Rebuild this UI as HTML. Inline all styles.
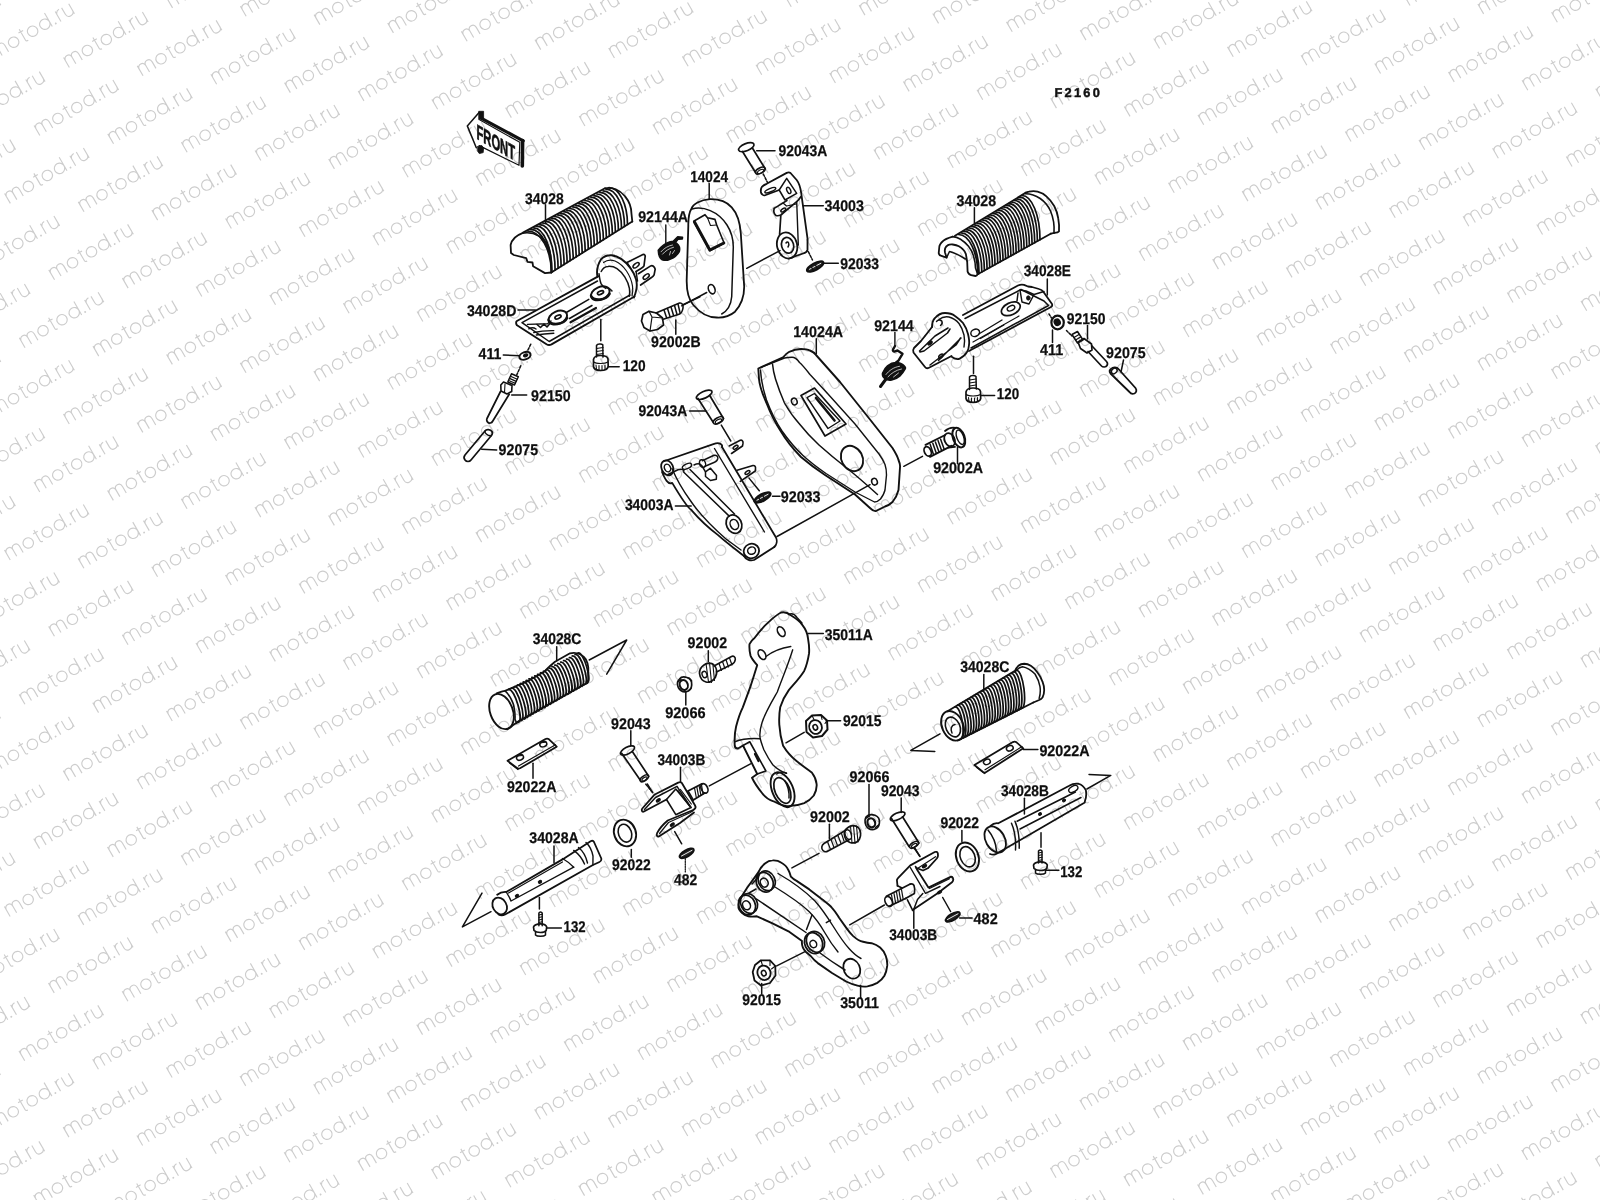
<!DOCTYPE html>
<html><head><meta charset="utf-8"><style>
html,body{margin:0;padding:0;background:#fff;width:1600px;height:1200px;overflow:hidden}
svg{display:block;will-change:transform}
.lb text{font-family:"Liberation Sans",sans-serif;font-weight:bold;font-size:15.5px;text-rendering:geometricPrecision;fill:#0d0d0d;stroke:#0d0d0d;stroke-width:0.25px}
.lb{opacity:0.995;will-change:transform}
</style></head><body>
<svg width="1600" height="1200" viewBox="0 0 1600 1200">
<defs><g id="wm"><path d="M0.4,0.0 V-11.5 M0.4,-7.9 C0.9,-10.9 2.6,-11.5 4.3,-11.5 C6.5,-11.5 7.9,-9.9 7.9,-7.5 V0.0 M7.9,-7.5 C7.9,-9.9 9.4,-11.5 11.6,-11.5 C13.8,-11.5 15.3,-9.9 15.3,-7.5 V0.0 M19.3,-5.75 a5.2,5.2 0 1,0 10.4,0 a5.2,5.2 0 1,0 -10.4,0 M35.8,-14.2 V-1.5 C35.8,-0.3 36.599999999999994,0 38.099999999999994,0 M33.199999999999996,-11.2 H38.599999999999994 M41.199999999999996,-5.75 a5.2,5.2 0 1,0 10.4,0 a5.2,5.2 0 1,0 -10.4,0 M55.3,-5.75 a5.2,5.2 0 1,0 10.4,0 a5.2,5.2 0 1,0 -10.4,0 M65.8,-15.6 V0 M75.8,0 V-11.5 M75.8,-8.0 C76.39999999999999,-10.7 78.0,-11.5 80.2,-11.5 M83.2,-11.5 V-4 C83.2,-1.4 84.9,0 87.30000000000001,0 C89.7,0 91.4,-1.4 91.4,-4 M91.4,-11.5 V0" fill="none" stroke="#cdcdcd" stroke-width="1.15"/><circle cx="70.4" cy="-0.9" r="0.95" fill="#cdcdcd"/></g></defs>
<rect width="1600" height="1200" fill="#fff"/>
<g><use href="#wm" transform="translate(1115.0,-27.7) rotate(-30)"/><use href="#wm" transform="translate(1188.7,-19.3) rotate(-30)"/><use href="#wm" transform="translate(1262.4,-11.0) rotate(-30)"/><use href="#wm" transform="translate(1336.0,-2.6) rotate(-30)"/><use href="#wm" transform="translate(1409.7,5.7) rotate(-30)"/><use href="#wm" transform="translate(1483.3,14.1) rotate(-30)"/><use href="#wm" transform="translate(1557.0,22.4) rotate(-30)"/><use href="#wm" transform="translate(1630.7,30.8) rotate(-30)"/><use href="#wm" transform="translate(496.3,-26.5) rotate(-30)"/><use href="#wm" transform="translate(569.9,-18.1) rotate(-30)"/><use href="#wm" transform="translate(643.6,-9.8) rotate(-30)"/><use href="#wm" transform="translate(717.3,-1.4) rotate(-30)"/><use href="#wm" transform="translate(790.9,6.9) rotate(-30)"/><use href="#wm" transform="translate(864.6,15.3) rotate(-30)"/><use href="#wm" transform="translate(938.2,23.6) rotate(-30)"/><use href="#wm" transform="translate(1011.9,32.0) rotate(-30)"/><use href="#wm" transform="translate(1085.6,40.3) rotate(-30)"/><use href="#wm" transform="translate(1159.2,48.7) rotate(-30)"/><use href="#wm" transform="translate(1232.9,57.0) rotate(-30)"/><use href="#wm" transform="translate(1306.5,65.4) rotate(-30)"/><use href="#wm" transform="translate(1380.2,73.7) rotate(-30)"/><use href="#wm" transform="translate(1453.9,82.1) rotate(-30)"/><use href="#wm" transform="translate(1527.5,90.4) rotate(-30)"/><use href="#wm" transform="translate(1601.2,98.8) rotate(-30)"/><use href="#wm" transform="translate(1674.8,107.1) rotate(-30)"/><use href="#wm" transform="translate(-48.8,-17.0) rotate(-30)"/><use href="#wm" transform="translate(24.8,-8.6) rotate(-30)"/><use href="#wm" transform="translate(98.5,-0.3) rotate(-30)"/><use href="#wm" transform="translate(172.2,8.1) rotate(-30)"/><use href="#wm" transform="translate(245.8,16.4) rotate(-30)"/><use href="#wm" transform="translate(319.5,24.8) rotate(-30)"/><use href="#wm" transform="translate(393.1,33.1) rotate(-30)"/><use href="#wm" transform="translate(466.8,41.5) rotate(-30)"/><use href="#wm" transform="translate(540.4,49.8) rotate(-30)"/><use href="#wm" transform="translate(614.1,58.2) rotate(-30)"/><use href="#wm" transform="translate(687.8,66.5) rotate(-30)"/><use href="#wm" transform="translate(761.4,74.9) rotate(-30)"/><use href="#wm" transform="translate(835.1,83.2) rotate(-30)"/><use href="#wm" transform="translate(908.8,91.6) rotate(-30)"/><use href="#wm" transform="translate(982.4,99.9) rotate(-30)"/><use href="#wm" transform="translate(1056.1,108.3) rotate(-30)"/><use href="#wm" transform="translate(1129.7,116.6) rotate(-30)"/><use href="#wm" transform="translate(1203.4,125.0) rotate(-30)"/><use href="#wm" transform="translate(1277.0,133.3) rotate(-30)"/><use href="#wm" transform="translate(1350.7,141.7) rotate(-30)"/><use href="#wm" transform="translate(1424.4,150.0) rotate(-30)"/><use href="#wm" transform="translate(1498.0,158.4) rotate(-30)"/><use href="#wm" transform="translate(1571.7,166.7) rotate(-30)"/><use href="#wm" transform="translate(1645.3,175.1) rotate(-30)"/><use href="#wm" transform="translate(-78.3,51.0) rotate(-30)"/><use href="#wm" transform="translate(-4.7,59.4) rotate(-30)"/><use href="#wm" transform="translate(69.0,67.7) rotate(-30)"/><use href="#wm" transform="translate(142.7,76.0) rotate(-30)"/><use href="#wm" transform="translate(216.3,84.4) rotate(-30)"/><use href="#wm" transform="translate(290.0,92.8) rotate(-30)"/><use href="#wm" transform="translate(363.6,101.1) rotate(-30)"/><use href="#wm" transform="translate(437.3,109.5) rotate(-30)"/><use href="#wm" transform="translate(511.0,117.8) rotate(-30)"/><use href="#wm" transform="translate(584.6,126.2) rotate(-30)"/><use href="#wm" transform="translate(658.3,134.5) rotate(-30)"/><use href="#wm" transform="translate(731.9,142.8) rotate(-30)"/><use href="#wm" transform="translate(805.6,151.2) rotate(-30)"/><use href="#wm" transform="translate(879.3,159.6) rotate(-30)"/><use href="#wm" transform="translate(952.9,167.9) rotate(-30)"/><use href="#wm" transform="translate(1026.6,176.2) rotate(-30)"/><use href="#wm" transform="translate(1100.2,184.6) rotate(-30)"/><use href="#wm" transform="translate(1173.9,192.9) rotate(-30)"/><use href="#wm" transform="translate(1247.6,201.3) rotate(-30)"/><use href="#wm" transform="translate(1321.2,209.6) rotate(-30)"/><use href="#wm" transform="translate(1394.9,218.0) rotate(-30)"/><use href="#wm" transform="translate(1468.5,226.4) rotate(-30)"/><use href="#wm" transform="translate(1542.2,234.7) rotate(-30)"/><use href="#wm" transform="translate(1615.9,243.1) rotate(-30)"/><use href="#wm" transform="translate(1689.5,251.4) rotate(-30)"/><use href="#wm" transform="translate(-34.1,127.3) rotate(-30)"/><use href="#wm" transform="translate(39.5,135.7) rotate(-30)"/><use href="#wm" transform="translate(113.2,144.0) rotate(-30)"/><use href="#wm" transform="translate(186.8,152.4) rotate(-30)"/><use href="#wm" transform="translate(260.5,160.7) rotate(-30)"/><use href="#wm" transform="translate(334.1,169.1) rotate(-30)"/><use href="#wm" transform="translate(407.8,177.4) rotate(-30)"/><use href="#wm" transform="translate(481.5,185.8) rotate(-30)"/><use href="#wm" transform="translate(555.1,194.1) rotate(-30)"/><use href="#wm" transform="translate(628.8,202.5) rotate(-30)"/><use href="#wm" transform="translate(702.4,210.8) rotate(-30)"/><use href="#wm" transform="translate(776.1,219.2) rotate(-30)"/><use href="#wm" transform="translate(849.8,227.5) rotate(-30)"/><use href="#wm" transform="translate(923.4,235.9) rotate(-30)"/><use href="#wm" transform="translate(997.1,244.2) rotate(-30)"/><use href="#wm" transform="translate(1070.8,252.6) rotate(-30)"/><use href="#wm" transform="translate(1144.4,260.9) rotate(-30)"/><use href="#wm" transform="translate(1218.1,269.3) rotate(-30)"/><use href="#wm" transform="translate(1291.7,277.6) rotate(-30)"/><use href="#wm" transform="translate(1365.4,286.0) rotate(-30)"/><use href="#wm" transform="translate(1439.0,294.3) rotate(-30)"/><use href="#wm" transform="translate(1512.7,302.7) rotate(-30)"/><use href="#wm" transform="translate(1586.4,311.0) rotate(-30)"/><use href="#wm" transform="translate(1660.0,319.4) rotate(-30)"/><use href="#wm" transform="translate(-63.6,195.3) rotate(-30)"/><use href="#wm" transform="translate(10.0,203.6) rotate(-30)"/><use href="#wm" transform="translate(83.7,212.0) rotate(-30)"/><use href="#wm" transform="translate(157.3,220.3) rotate(-30)"/><use href="#wm" transform="translate(231.0,228.7) rotate(-30)"/><use href="#wm" transform="translate(304.7,237.0) rotate(-30)"/><use href="#wm" transform="translate(378.3,245.4) rotate(-30)"/><use href="#wm" transform="translate(452.0,253.7) rotate(-30)"/><use href="#wm" transform="translate(525.6,262.1) rotate(-30)"/><use href="#wm" transform="translate(599.3,270.4) rotate(-30)"/><use href="#wm" transform="translate(673.0,278.8) rotate(-30)"/><use href="#wm" transform="translate(746.6,287.1) rotate(-30)"/><use href="#wm" transform="translate(820.3,295.5) rotate(-30)"/><use href="#wm" transform="translate(893.9,303.8) rotate(-30)"/><use href="#wm" transform="translate(967.6,312.2) rotate(-30)"/><use href="#wm" transform="translate(1041.3,320.5) rotate(-30)"/><use href="#wm" transform="translate(1114.9,328.9) rotate(-30)"/><use href="#wm" transform="translate(1188.6,337.2) rotate(-30)"/><use href="#wm" transform="translate(1262.2,345.6) rotate(-30)"/><use href="#wm" transform="translate(1335.9,353.9) rotate(-30)"/><use href="#wm" transform="translate(1409.6,362.3) rotate(-30)"/><use href="#wm" transform="translate(1483.2,370.6) rotate(-30)"/><use href="#wm" transform="translate(1556.9,379.0) rotate(-30)"/><use href="#wm" transform="translate(1630.5,387.3) rotate(-30)"/><use href="#wm" transform="translate(-93.1,263.3) rotate(-30)"/><use href="#wm" transform="translate(-19.5,271.6) rotate(-30)"/><use href="#wm" transform="translate(54.2,280.0) rotate(-30)"/><use href="#wm" transform="translate(127.8,288.3) rotate(-30)"/><use href="#wm" transform="translate(201.5,296.7) rotate(-30)"/><use href="#wm" transform="translate(275.2,305.0) rotate(-30)"/><use href="#wm" transform="translate(348.8,313.4) rotate(-30)"/><use href="#wm" transform="translate(422.5,321.7) rotate(-30)"/><use href="#wm" transform="translate(496.1,330.1) rotate(-30)"/><use href="#wm" transform="translate(569.8,338.4) rotate(-30)"/><use href="#wm" transform="translate(643.5,346.8) rotate(-30)"/><use href="#wm" transform="translate(717.1,355.1) rotate(-30)"/><use href="#wm" transform="translate(790.8,363.5) rotate(-30)"/><use href="#wm" transform="translate(864.4,371.8) rotate(-30)"/><use href="#wm" transform="translate(938.1,380.2) rotate(-30)"/><use href="#wm" transform="translate(1011.8,388.5) rotate(-30)"/><use href="#wm" transform="translate(1085.4,396.9) rotate(-30)"/><use href="#wm" transform="translate(1159.1,405.2) rotate(-30)"/><use href="#wm" transform="translate(1232.8,413.6) rotate(-30)"/><use href="#wm" transform="translate(1306.4,421.9) rotate(-30)"/><use href="#wm" transform="translate(1380.1,430.3) rotate(-30)"/><use href="#wm" transform="translate(1453.7,438.6) rotate(-30)"/><use href="#wm" transform="translate(1527.4,447.0) rotate(-30)"/><use href="#wm" transform="translate(1601.0,455.3) rotate(-30)"/><use href="#wm" transform="translate(1674.7,463.7) rotate(-30)"/><use href="#wm" transform="translate(-49.0,339.6) rotate(-30)"/><use href="#wm" transform="translate(24.7,347.9) rotate(-30)"/><use href="#wm" transform="translate(98.4,356.3) rotate(-30)"/><use href="#wm" transform="translate(172.0,364.6) rotate(-30)"/><use href="#wm" transform="translate(245.7,373.0) rotate(-30)"/><use href="#wm" transform="translate(319.3,381.3) rotate(-30)"/><use href="#wm" transform="translate(393.0,389.7) rotate(-30)"/><use href="#wm" transform="translate(466.7,398.0) rotate(-30)"/><use href="#wm" transform="translate(540.3,406.4) rotate(-30)"/><use href="#wm" transform="translate(614.0,414.7) rotate(-30)"/><use href="#wm" transform="translate(687.6,423.1) rotate(-30)"/><use href="#wm" transform="translate(761.3,431.4) rotate(-30)"/><use href="#wm" transform="translate(835.0,439.8) rotate(-30)"/><use href="#wm" transform="translate(908.6,448.1) rotate(-30)"/><use href="#wm" transform="translate(982.3,456.5) rotate(-30)"/><use href="#wm" transform="translate(1055.9,464.8) rotate(-30)"/><use href="#wm" transform="translate(1129.6,473.2) rotate(-30)"/><use href="#wm" transform="translate(1203.3,481.5) rotate(-30)"/><use href="#wm" transform="translate(1276.9,489.9) rotate(-30)"/><use href="#wm" transform="translate(1350.6,498.2) rotate(-30)"/><use href="#wm" transform="translate(1424.2,506.6) rotate(-30)"/><use href="#wm" transform="translate(1497.9,514.9) rotate(-30)"/><use href="#wm" transform="translate(1571.6,523.3) rotate(-30)"/><use href="#wm" transform="translate(1645.2,531.6) rotate(-30)"/><use href="#wm" transform="translate(-78.4,407.6) rotate(-30)"/><use href="#wm" transform="translate(-4.8,415.9) rotate(-30)"/><use href="#wm" transform="translate(68.9,424.2) rotate(-30)"/><use href="#wm" transform="translate(142.5,432.6) rotate(-30)"/><use href="#wm" transform="translate(216.2,441.0) rotate(-30)"/><use href="#wm" transform="translate(289.8,449.3) rotate(-30)"/><use href="#wm" transform="translate(363.5,457.7) rotate(-30)"/><use href="#wm" transform="translate(437.2,466.0) rotate(-30)"/><use href="#wm" transform="translate(510.8,474.4) rotate(-30)"/><use href="#wm" transform="translate(584.5,482.7) rotate(-30)"/><use href="#wm" transform="translate(658.1,491.1) rotate(-30)"/><use href="#wm" transform="translate(731.8,499.4) rotate(-30)"/><use href="#wm" transform="translate(805.5,507.8) rotate(-30)"/><use href="#wm" transform="translate(879.1,516.1) rotate(-30)"/><use href="#wm" transform="translate(952.8,524.5) rotate(-30)"/><use href="#wm" transform="translate(1026.4,532.8) rotate(-30)"/><use href="#wm" transform="translate(1100.1,541.2) rotate(-30)"/><use href="#wm" transform="translate(1173.8,549.5) rotate(-30)"/><use href="#wm" transform="translate(1247.4,557.9) rotate(-30)"/><use href="#wm" transform="translate(1321.1,566.2) rotate(-30)"/><use href="#wm" transform="translate(1394.7,574.5) rotate(-30)"/><use href="#wm" transform="translate(1468.4,582.9) rotate(-30)"/><use href="#wm" transform="translate(1542.1,591.2) rotate(-30)"/><use href="#wm" transform="translate(1615.7,599.6) rotate(-30)"/><use href="#wm" transform="translate(1689.4,608.0) rotate(-30)"/><use href="#wm" transform="translate(-34.3,483.9) rotate(-30)"/><use href="#wm" transform="translate(39.4,492.2) rotate(-30)"/><use href="#wm" transform="translate(113.0,500.6) rotate(-30)"/><use href="#wm" transform="translate(186.7,508.9) rotate(-30)"/><use href="#wm" transform="translate(260.4,517.3) rotate(-30)"/><use href="#wm" transform="translate(334.0,525.6) rotate(-30)"/><use href="#wm" transform="translate(407.7,534.0) rotate(-30)"/><use href="#wm" transform="translate(481.3,542.3) rotate(-30)"/><use href="#wm" transform="translate(555.0,550.7) rotate(-30)"/><use href="#wm" transform="translate(628.7,559.0) rotate(-30)"/><use href="#wm" transform="translate(702.3,567.4) rotate(-30)"/><use href="#wm" transform="translate(776.0,575.7) rotate(-30)"/><use href="#wm" transform="translate(849.6,584.1) rotate(-30)"/><use href="#wm" transform="translate(923.3,592.4) rotate(-30)"/><use href="#wm" transform="translate(997.0,600.8) rotate(-30)"/><use href="#wm" transform="translate(1070.6,609.1) rotate(-30)"/><use href="#wm" transform="translate(1144.3,617.5) rotate(-30)"/><use href="#wm" transform="translate(1217.9,625.8) rotate(-30)"/><use href="#wm" transform="translate(1291.6,634.2) rotate(-30)"/><use href="#wm" transform="translate(1365.3,642.5) rotate(-30)"/><use href="#wm" transform="translate(1438.9,650.9) rotate(-30)"/><use href="#wm" transform="translate(1512.6,659.2) rotate(-30)"/><use href="#wm" transform="translate(1586.2,667.6) rotate(-30)"/><use href="#wm" transform="translate(1659.9,675.9) rotate(-30)"/><use href="#wm" transform="translate(-63.8,551.8) rotate(-30)"/><use href="#wm" transform="translate(9.9,560.2) rotate(-30)"/><use href="#wm" transform="translate(83.6,568.5) rotate(-30)"/><use href="#wm" transform="translate(157.2,576.9) rotate(-30)"/><use href="#wm" transform="translate(230.9,585.2) rotate(-30)"/><use href="#wm" transform="translate(304.5,593.6) rotate(-30)"/><use href="#wm" transform="translate(378.2,601.9) rotate(-30)"/><use href="#wm" transform="translate(451.9,610.3) rotate(-30)"/><use href="#wm" transform="translate(525.5,618.6) rotate(-30)"/><use href="#wm" transform="translate(599.2,627.0) rotate(-30)"/><use href="#wm" transform="translate(672.8,635.3) rotate(-30)"/><use href="#wm" transform="translate(746.5,643.7) rotate(-30)"/><use href="#wm" transform="translate(820.1,652.0) rotate(-30)"/><use href="#wm" transform="translate(893.8,660.4) rotate(-30)"/><use href="#wm" transform="translate(967.5,668.7) rotate(-30)"/><use href="#wm" transform="translate(1041.1,677.1) rotate(-30)"/><use href="#wm" transform="translate(1114.8,685.4) rotate(-30)"/><use href="#wm" transform="translate(1188.4,693.8) rotate(-30)"/><use href="#wm" transform="translate(1262.1,702.1) rotate(-30)"/><use href="#wm" transform="translate(1335.8,710.5) rotate(-30)"/><use href="#wm" transform="translate(1409.4,718.8) rotate(-30)"/><use href="#wm" transform="translate(1483.1,727.2) rotate(-30)"/><use href="#wm" transform="translate(1556.7,735.5) rotate(-30)"/><use href="#wm" transform="translate(1630.4,743.9) rotate(-30)"/><use href="#wm" transform="translate(-93.3,619.8) rotate(-30)"/><use href="#wm" transform="translate(-19.6,628.2) rotate(-30)"/><use href="#wm" transform="translate(54.1,636.5) rotate(-30)"/><use href="#wm" transform="translate(127.7,644.9) rotate(-30)"/><use href="#wm" transform="translate(201.4,653.2) rotate(-30)"/><use href="#wm" transform="translate(275.0,661.6) rotate(-30)"/><use href="#wm" transform="translate(348.7,669.9) rotate(-30)"/><use href="#wm" transform="translate(422.4,678.3) rotate(-30)"/><use href="#wm" transform="translate(496.0,686.6) rotate(-30)"/><use href="#wm" transform="translate(569.7,695.0) rotate(-30)"/><use href="#wm" transform="translate(643.3,703.3) rotate(-30)"/><use href="#wm" transform="translate(717.0,711.7) rotate(-30)"/><use href="#wm" transform="translate(790.7,720.0) rotate(-30)"/><use href="#wm" transform="translate(864.3,728.4) rotate(-30)"/><use href="#wm" transform="translate(938.0,736.7) rotate(-30)"/><use href="#wm" transform="translate(1011.6,745.1) rotate(-30)"/><use href="#wm" transform="translate(1085.3,753.4) rotate(-30)"/><use href="#wm" transform="translate(1159.0,761.8) rotate(-30)"/><use href="#wm" transform="translate(1232.6,770.1) rotate(-30)"/><use href="#wm" transform="translate(1306.3,778.5) rotate(-30)"/><use href="#wm" transform="translate(1379.9,786.8) rotate(-30)"/><use href="#wm" transform="translate(1453.6,795.2) rotate(-30)"/><use href="#wm" transform="translate(1527.3,803.5) rotate(-30)"/><use href="#wm" transform="translate(1600.9,811.9) rotate(-30)"/><use href="#wm" transform="translate(1674.6,820.2) rotate(-30)"/><use href="#wm" transform="translate(-49.1,696.1) rotate(-30)"/><use href="#wm" transform="translate(24.6,704.5) rotate(-30)"/><use href="#wm" transform="translate(98.2,712.8) rotate(-30)"/><use href="#wm" transform="translate(171.9,721.2) rotate(-30)"/><use href="#wm" transform="translate(245.6,729.5) rotate(-30)"/><use href="#wm" transform="translate(319.2,737.9) rotate(-30)"/><use href="#wm" transform="translate(392.9,746.2) rotate(-30)"/><use href="#wm" transform="translate(466.5,754.6) rotate(-30)"/><use href="#wm" transform="translate(540.2,762.9) rotate(-30)"/><use href="#wm" transform="translate(613.9,771.3) rotate(-30)"/><use href="#wm" transform="translate(687.5,779.6) rotate(-30)"/><use href="#wm" transform="translate(761.2,788.0) rotate(-30)"/><use href="#wm" transform="translate(834.8,796.3) rotate(-30)"/><use href="#wm" transform="translate(908.5,804.7) rotate(-30)"/><use href="#wm" transform="translate(982.1,813.0) rotate(-30)"/><use href="#wm" transform="translate(1055.8,821.4) rotate(-30)"/><use href="#wm" transform="translate(1129.5,829.7) rotate(-30)"/><use href="#wm" transform="translate(1203.1,838.1) rotate(-30)"/><use href="#wm" transform="translate(1276.8,846.4) rotate(-30)"/><use href="#wm" transform="translate(1350.4,854.8) rotate(-30)"/><use href="#wm" transform="translate(1424.1,863.1) rotate(-30)"/><use href="#wm" transform="translate(1497.8,871.5) rotate(-30)"/><use href="#wm" transform="translate(1571.4,879.8) rotate(-30)"/><use href="#wm" transform="translate(1645.1,888.2) rotate(-30)"/><use href="#wm" transform="translate(-78.6,764.1) rotate(-30)"/><use href="#wm" transform="translate(-4.9,772.5) rotate(-30)"/><use href="#wm" transform="translate(68.7,780.8) rotate(-30)"/><use href="#wm" transform="translate(142.4,789.2) rotate(-30)"/><use href="#wm" transform="translate(216.1,797.5) rotate(-30)"/><use href="#wm" transform="translate(289.7,805.9) rotate(-30)"/><use href="#wm" transform="translate(363.4,814.2) rotate(-30)"/><use href="#wm" transform="translate(437.0,822.6) rotate(-30)"/><use href="#wm" transform="translate(510.7,830.9) rotate(-30)"/><use href="#wm" transform="translate(584.4,839.2) rotate(-30)"/><use href="#wm" transform="translate(658.0,847.6) rotate(-30)"/><use href="#wm" transform="translate(731.7,856.0) rotate(-30)"/><use href="#wm" transform="translate(805.3,864.3) rotate(-30)"/><use href="#wm" transform="translate(879.0,872.7) rotate(-30)"/><use href="#wm" transform="translate(952.7,881.0) rotate(-30)"/><use href="#wm" transform="translate(1026.3,889.4) rotate(-30)"/><use href="#wm" transform="translate(1100.0,897.7) rotate(-30)"/><use href="#wm" transform="translate(1173.6,906.1) rotate(-30)"/><use href="#wm" transform="translate(1247.3,914.4) rotate(-30)"/><use href="#wm" transform="translate(1321.0,922.8) rotate(-30)"/><use href="#wm" transform="translate(1394.6,931.1) rotate(-30)"/><use href="#wm" transform="translate(1468.3,939.5) rotate(-30)"/><use href="#wm" transform="translate(1541.9,947.8) rotate(-30)"/><use href="#wm" transform="translate(1615.6,956.2) rotate(-30)"/><use href="#wm" transform="translate(1689.3,964.5) rotate(-30)"/><use href="#wm" transform="translate(-34.4,840.4) rotate(-30)"/><use href="#wm" transform="translate(39.2,848.8) rotate(-30)"/><use href="#wm" transform="translate(112.9,857.1) rotate(-30)"/><use href="#wm" transform="translate(186.6,865.5) rotate(-30)"/><use href="#wm" transform="translate(260.2,873.8) rotate(-30)"/><use href="#wm" transform="translate(333.9,882.2) rotate(-30)"/><use href="#wm" transform="translate(407.5,890.5) rotate(-30)"/><use href="#wm" transform="translate(481.2,898.9) rotate(-30)"/><use href="#wm" transform="translate(554.9,907.2) rotate(-30)"/><use href="#wm" transform="translate(628.5,915.6) rotate(-30)"/><use href="#wm" transform="translate(702.2,923.9) rotate(-30)"/><use href="#wm" transform="translate(775.9,932.3) rotate(-30)"/><use href="#wm" transform="translate(849.5,940.6) rotate(-30)"/><use href="#wm" transform="translate(923.2,949.0) rotate(-30)"/><use href="#wm" transform="translate(996.8,957.3) rotate(-30)"/><use href="#wm" transform="translate(1070.5,965.7) rotate(-30)"/><use href="#wm" transform="translate(1144.2,974.0) rotate(-30)"/><use href="#wm" transform="translate(1217.8,982.4) rotate(-30)"/><use href="#wm" transform="translate(1291.5,990.7) rotate(-30)"/><use href="#wm" transform="translate(1365.1,999.1) rotate(-30)"/><use href="#wm" transform="translate(1438.8,1007.4) rotate(-30)"/><use href="#wm" transform="translate(1512.4,1015.8) rotate(-30)"/><use href="#wm" transform="translate(1586.1,1024.1) rotate(-30)"/><use href="#wm" transform="translate(1659.8,1032.5) rotate(-30)"/><use href="#wm" transform="translate(-63.9,908.4) rotate(-30)"/><use href="#wm" transform="translate(9.8,916.7) rotate(-30)"/><use href="#wm" transform="translate(83.4,925.1) rotate(-30)"/><use href="#wm" transform="translate(157.1,933.4) rotate(-30)"/><use href="#wm" transform="translate(230.7,941.8) rotate(-30)"/><use href="#wm" transform="translate(304.4,950.1) rotate(-30)"/><use href="#wm" transform="translate(378.1,958.5) rotate(-30)"/><use href="#wm" transform="translate(451.7,966.8) rotate(-30)"/><use href="#wm" transform="translate(525.4,975.2) rotate(-30)"/><use href="#wm" transform="translate(599.0,983.5) rotate(-30)"/><use href="#wm" transform="translate(672.7,991.9) rotate(-30)"/><use href="#wm" transform="translate(746.4,1000.2) rotate(-30)"/><use href="#wm" transform="translate(820.0,1008.6) rotate(-30)"/><use href="#wm" transform="translate(893.7,1016.9) rotate(-30)"/><use href="#wm" transform="translate(967.3,1025.3) rotate(-30)"/><use href="#wm" transform="translate(1041.0,1033.6) rotate(-30)"/><use href="#wm" transform="translate(1114.7,1042.0) rotate(-30)"/><use href="#wm" transform="translate(1188.3,1050.3) rotate(-30)"/><use href="#wm" transform="translate(1262.0,1058.7) rotate(-30)"/><use href="#wm" transform="translate(1335.6,1067.0) rotate(-30)"/><use href="#wm" transform="translate(1409.3,1075.4) rotate(-30)"/><use href="#wm" transform="translate(1483.0,1083.7) rotate(-30)"/><use href="#wm" transform="translate(1556.6,1092.1) rotate(-30)"/><use href="#wm" transform="translate(1630.3,1100.4) rotate(-30)"/><use href="#wm" transform="translate(-93.4,976.4) rotate(-30)"/><use href="#wm" transform="translate(-19.7,984.7) rotate(-30)"/><use href="#wm" transform="translate(53.9,993.1) rotate(-30)"/><use href="#wm" transform="translate(127.6,1001.4) rotate(-30)"/><use href="#wm" transform="translate(201.2,1009.8) rotate(-30)"/><use href="#wm" transform="translate(274.9,1018.1) rotate(-30)"/><use href="#wm" transform="translate(348.6,1026.5) rotate(-30)"/><use href="#wm" transform="translate(422.2,1034.8) rotate(-30)"/><use href="#wm" transform="translate(495.9,1043.2) rotate(-30)"/><use href="#wm" transform="translate(569.5,1051.5) rotate(-30)"/><use href="#wm" transform="translate(643.2,1059.9) rotate(-30)"/><use href="#wm" transform="translate(716.9,1068.2) rotate(-30)"/><use href="#wm" transform="translate(790.5,1076.6) rotate(-30)"/><use href="#wm" transform="translate(864.2,1084.9) rotate(-30)"/><use href="#wm" transform="translate(937.9,1093.3) rotate(-30)"/><use href="#wm" transform="translate(1011.5,1101.6) rotate(-30)"/><use href="#wm" transform="translate(1085.2,1110.0) rotate(-30)"/><use href="#wm" transform="translate(1158.8,1118.3) rotate(-30)"/><use href="#wm" transform="translate(1232.5,1126.7) rotate(-30)"/><use href="#wm" transform="translate(1306.2,1135.0) rotate(-30)"/><use href="#wm" transform="translate(1379.8,1143.4) rotate(-30)"/><use href="#wm" transform="translate(1453.5,1151.7) rotate(-30)"/><use href="#wm" transform="translate(1527.1,1160.1) rotate(-30)"/><use href="#wm" transform="translate(1600.8,1168.4) rotate(-30)"/><use href="#wm" transform="translate(1674.4,1176.8) rotate(-30)"/><use href="#wm" transform="translate(-49.2,1052.7) rotate(-30)"/><use href="#wm" transform="translate(24.4,1061.0) rotate(-30)"/><use href="#wm" transform="translate(98.1,1069.4) rotate(-30)"/><use href="#wm" transform="translate(171.8,1077.7) rotate(-30)"/><use href="#wm" transform="translate(245.4,1086.1) rotate(-30)"/><use href="#wm" transform="translate(319.1,1094.4) rotate(-30)"/><use href="#wm" transform="translate(392.7,1102.8) rotate(-30)"/><use href="#wm" transform="translate(466.4,1111.1) rotate(-30)"/><use href="#wm" transform="translate(540.1,1119.5) rotate(-30)"/><use href="#wm" transform="translate(613.7,1127.8) rotate(-30)"/><use href="#wm" transform="translate(687.4,1136.2) rotate(-30)"/><use href="#wm" transform="translate(761.0,1144.5) rotate(-30)"/><use href="#wm" transform="translate(834.7,1152.9) rotate(-30)"/><use href="#wm" transform="translate(908.4,1161.2) rotate(-30)"/><use href="#wm" transform="translate(982.0,1169.6) rotate(-30)"/><use href="#wm" transform="translate(1055.7,1177.9) rotate(-30)"/><use href="#wm" transform="translate(1129.3,1186.3) rotate(-30)"/><use href="#wm" transform="translate(1203.0,1194.6) rotate(-30)"/><use href="#wm" transform="translate(1276.7,1203.0) rotate(-30)"/><use href="#wm" transform="translate(1350.3,1211.3) rotate(-30)"/><use href="#wm" transform="translate(1424.0,1219.7) rotate(-30)"/><use href="#wm" transform="translate(1497.6,1228.0) rotate(-30)"/><use href="#wm" transform="translate(1571.3,1236.4) rotate(-30)"/><use href="#wm" transform="translate(1645.0,1244.7) rotate(-30)"/><use href="#wm" transform="translate(-78.7,1120.6) rotate(-30)"/><use href="#wm" transform="translate(-5.1,1129.0) rotate(-30)"/><use href="#wm" transform="translate(68.6,1137.3) rotate(-30)"/><use href="#wm" transform="translate(142.3,1145.7) rotate(-30)"/><use href="#wm" transform="translate(215.9,1154.0) rotate(-30)"/><use href="#wm" transform="translate(289.6,1162.4) rotate(-30)"/><use href="#wm" transform="translate(363.2,1170.8) rotate(-30)"/><use href="#wm" transform="translate(436.9,1179.1) rotate(-30)"/><use href="#wm" transform="translate(510.6,1187.4) rotate(-30)"/><use href="#wm" transform="translate(584.2,1195.8) rotate(-30)"/><use href="#wm" transform="translate(657.9,1204.1) rotate(-30)"/><use href="#wm" transform="translate(731.5,1212.5) rotate(-30)"/><use href="#wm" transform="translate(805.2,1220.8) rotate(-30)"/><use href="#wm" transform="translate(878.9,1229.2) rotate(-30)"/><use href="#wm" transform="translate(952.5,1237.5) rotate(-30)"/><use href="#wm" transform="translate(1026.2,1245.9) rotate(-30)"/><use href="#wm" transform="translate(1099.8,1254.2) rotate(-30)"/><use href="#wm" transform="translate(-34.5,1197.0) rotate(-30)"/><use href="#wm" transform="translate(39.1,1205.3) rotate(-30)"/><use href="#wm" transform="translate(112.8,1213.7) rotate(-30)"/><use href="#wm" transform="translate(186.4,1222.0) rotate(-30)"/><use href="#wm" transform="translate(260.1,1230.4) rotate(-30)"/><use href="#wm" transform="translate(333.8,1238.7) rotate(-30)"/><use href="#wm" transform="translate(407.4,1247.1) rotate(-30)"/><use href="#wm" transform="translate(481.1,1255.4) rotate(-30)"/></g>
<g fill="none" stroke="#111" stroke-width="1.6" stroke-linejoin="round" stroke-linecap="round">
<path d="M476.3,147.8 L467.3,125.9 L479.3,112.3" stroke-width="1.5"/><path d="M479,111.3 L483.6,111.3 L483.6,118.2 L479,119.5 Z" stroke-width="0.8" fill="#111"/><path d="M481.5,118.4 L523.2,140.8" stroke-width="3.2"/><path d="M522.6,140.5 L522.3,166.0" stroke-width="3.6"/><path d="M479.6,119.8 L519.8,142.3 L519.0,165.3 L479.2,145.6" stroke-width="1.2"/><path d="M477.6,146.5 L481.8,145.5 L483.6,148 L483.2,152.6 L479.3,153.6 L477.5,151 Z" stroke-width="0.8" fill="#111"/><text transform="translate(476.5,138.6) skewY(30)" x="0" y="0" textLength="38.5" lengthAdjust="spacingAndGlyphs" style="font-family:'Liberation Sans',sans-serif;font-weight:bold;font-size:21px" fill="#111" stroke="#111" stroke-width="0.7">FRONT</text><text x="1054.4" y="96.6" textLength="45.5" lengthAdjust="spacing" style="font-family:'Liberation Sans',sans-serif;font-weight:bold;font-size:12.8px;text-rendering:geometricPrecision" fill="#111" stroke="#111" stroke-width="0.45">F2160</text><path d="M522.5,233.1 C517,235 512,239 510.6,245 L511,253 L513.8,255 L526.2,258.1 L527.5,261.9 L532.5,262.5 L533.1,266.3 L545,273.1 L551.3,272.5" stroke-width="1.8"/><path d="M522.5,233.1 C535,231 545,238 548.8,247.5 C551,254 551.5,263 551.3,272.5" stroke-width="1.6"/><path d="M523.0,232.6 L605.0,188.3" stroke-width="1.8"/><path d="M605,188.3 C612,186.5 620,190 625,196.3 C629,201 631.5,208 631.5,214 L632.3,221.5" stroke-width="1.8"/><path d="M632.3,221.5 L551.3,272.5" stroke-width="1.8"/><path d="M527.5,231.0 C540.6,231.0 551.3,249.7 551.3,272.5 M530.5,229.4 C541.9,229.4 551.3,248.8 551.3,272.5 M533.5,227.8 C543.7,227.8 552.0,247.7 552.0,272.0 M536.6,226.2 C546.7,226.2 555.1,246.0 555.1,270.1 M539.6,224.6 C549.7,224.6 558.1,244.2 558.1,268.2 M542.6,223.0 C552.8,223.0 561.1,242.5 561.1,266.3 M545.6,221.4 C555.8,221.4 564.1,240.7 564.1,264.4 M548.6,219.7 C558.8,219.7 567.1,239.0 567.1,262.5 M551.6,218.1 C561.8,218.1 570.1,237.3 570.1,260.6 M554.7,216.5 C564.8,216.5 573.2,235.5 573.2,258.7 M557.7,214.9 C567.9,214.9 576.2,233.8 576.2,256.8 M560.7,213.3 C570.9,213.3 579.2,232.0 579.2,254.9 M563.7,211.7 C573.9,211.7 582.2,230.3 582.2,253.0 M566.7,210.1 C576.9,210.1 585.2,228.6 585.2,251.1 M569.8,208.5 C579.9,208.5 588.3,226.8 588.3,249.2 M572.8,206.9 C583.0,206.9 591.3,225.1 591.3,247.3 M575.8,205.3 C586.0,205.3 594.3,223.3 594.3,245.4 M578.8,203.7 C589.0,203.7 597.3,221.6 597.3,243.5 M581.8,202.1 C592.0,202.1 600.3,219.9 600.3,241.6 M584.9,200.5 C595.0,200.5 603.4,218.1 603.4,239.7 M587.9,198.9 C598.0,198.9 606.4,216.4 606.4,237.8 M590.9,197.2 C601.1,197.2 609.4,214.7 609.4,235.9 M593.9,195.6 C604.1,195.6 612.4,212.9 612.4,234.0 M596.9,194.0 C607.1,194.0 615.4,211.2 615.4,232.1 M599.9,192.4 C610.1,192.4 618.4,209.4 618.4,230.2 M603.0,190.8 C613.1,190.8 621.5,207.7 621.5,228.3 M606.0,189.2 C616.2,189.2 624.5,206.0 624.5,226.4 M609.0,187.6 C619.2,187.6 627.5,204.2 627.5,224.5" stroke-width="1.7"/><path d="M545.5,204.7 L545.5,223.5" stroke-width="1.5"/><path d="M665.8,225.0 L665.8,243.0" stroke-width="1.4"/><path d="M658.3,250.3 C661,247 665,243.5 668.7,242.3 C672,241 676,242.5 678.3,245 C679.8,247 680,249 679.3,251.5 C677.5,254.5 675.5,256.5 673.3,257.7 C670,259.5 667,260.5 664,260.3 C661.5,260 659.5,257.5 658.7,254 Z" stroke-width="1.6" fill="#111"/><path d="M661,251.8 C664,248.3 668,245.8 672.5,245 M662.5,254.2 C665.5,250.8 669,248.5 673.5,247.3 M670.5,251.5 L669.5,255 M674.5,250.5 L672.5,253.5" stroke="#fff" stroke-width="0.7"/><path d="M672,242.5 L677.7,236.8 L682.5,237.2 L682.3,239 L678,239.3 L675,243" stroke-width="1.6" fill="#111"/><path d="M710,199.2 C700,200 693,204 691.7,208.3 C688,214 688.3,220 688.3,226 L686.7,280 C686.5,292 689,300 693.3,305 C700,313 708,317.5 716.7,317.5 C725,318 731,315 735,311.7 C741,305 744.2,296 744.2,286.7 L740.8,233.3 C740,222 736,212 731.7,207.3 C726,201 719,199 710,199.2 Z" stroke-width="1.8"/><path d="M692,209 C703,206 718,211 727,225 C731.5,232 733.3,240 733.3,247 L731.7,296.7 C731,305 727,311 721.7,314" stroke-width="1.5"/><path d="M693.7,221.3 L705,214.7 L707.5,217.8 L715,219.4 L716.7,225 L724.2,243.3 L710,250.8 Z" stroke-width="1.6"/><path d="M694.5,222.0 L709.8,250.0 L723.8,243.0" stroke-width="3.0"/><path d="M707.5,217.8 L710.5,225.5 L716.7,225.0" stroke-width="1.1"/><ellipse cx="711.7" cy="289.2" rx="3.2" ry="4.8" transform="rotate(-20 711.7 289.2)" stroke-width="1.6"/><path d="M709.2,183.5 L709.2,199.0" stroke-width="1.5"/><path d="M681.7,305.8 L706.7,292.5" stroke-width="1.5"/><path d="M746.7,268.3 L780.0,250.6" stroke-width="1.5"/><ellipse cx="746.3" cy="147.2" rx="8.2" ry="3.6" transform="rotate(-22 746.3 147.2)" stroke-width="1.7"/><path d="M742.5,151.5 L755.5,172.5 M752.7,148.5 L765.2,168.7" stroke-width="1.7"/><ellipse cx="760.3" cy="170.6" rx="5.2" ry="2.6" transform="rotate(-28 760.3 170.6)" stroke-width="1.6"/><ellipse cx="760.6" cy="171.5" rx="3.4" ry="1.6" transform="rotate(-28 760.6 171.5)" stroke-width="1.2"/><path d="M756.7,150.8 L775.0,150.8" stroke-width="1.5"/><path d="M763.3,174.0 L767.5,182.5" stroke-width="1.5" stroke-dasharray="2.5,1.5"/><path d="M760.8,190 C761,187 763,185 766.7,183.8 L786.7,172.9 C788,172.3 789.5,172.3 790.5,173 L796.7,180 C799,183 800.5,188 801.2,193 L801.7,196.7 L807.5,238.3 L807.5,250 C807,252 805,253 803,253.5 L789,258.5" stroke-width="1.8"/><path d="M760.8,190 C760.5,193 761.5,195 764.5,195.5 L779.2,190" stroke-width="1.7"/><ellipse cx="770.3" cy="190.2" rx="5.8" ry="1.7" transform="rotate(-22 770.3 190.2)" stroke-width="1.5"/><path d="M779.2,190 L786.7,178.3 L796.7,193.3 L785,200 Z" stroke-width="1.5"/><ellipse cx="788.75" cy="190.4" rx="1.8" ry="3.4" transform="rotate(-25 788.75 190.4)" stroke-width="1.4"/><path d="M774.2,208.3 C773.5,211 774,214 776,215.5 C777.5,216 779,215.8 780.8,215 L796.7,201.7 C798.5,200 800,198 800.8,196.7" stroke-width="1.7"/><path d="M774.2,208.3 L787.0,200.5" stroke-width="1.5"/><ellipse cx="783.3" cy="210" rx="2.8" ry="1.3" transform="rotate(-35 783.3 210)" stroke-width="1.5"/><path d="M780.8,215.8 L779.6,234.2" stroke-width="1.7"/><path d="M796.7,201.7 L798.3,245.0" stroke-width="1.4"/><path d="M783.0,203.0 L786.5,206.0 L796.5,204.0" stroke-width="1.1"/><ellipse cx="787.1" cy="245.5" rx="10" ry="13.2" transform="rotate(-15 787.1 245.5)" stroke-width="1.8"/><ellipse cx="787.6" cy="245.3" rx="6" ry="8" transform="rotate(-15 787.6 245.3)" stroke-width="1.7"/><path d="M786,243 C788,240 790,244 788,247" stroke-width="1.5"/><path d="M803.3,205.8 L823.3,205.8" stroke-width="1.5"/><path d="M808.3,251.7 L812.5,260.0" stroke-width="1.5" stroke-dasharray="2.5,1.5"/><ellipse cx="815.2" cy="266.6" rx="9.2" ry="3.4" transform="rotate(-28 815.2 266.6)" stroke-width="2.0" fill="#222"/><path d="M809.5,269.3 L820.8,263.3" stroke="#fff" stroke-width="0.9"/><path d="M811.5,267 L813.5,271 M815.5,265 L817.5,269" stroke-width="1.2"/><path d="M824.2,263.3 L838.3,263.3" stroke-width="1.5"/><path d="M598.2,276.3 L516.9,321 C515.8,321.8 515.8,323.8 517,325.3 L546.5,344.3 C548,345.2 550,345.2 551.5,344.4 L634.5,296.5" stroke-width="1.9"/><path d="M597.5,281 L522,322.6 L549.2,341.5 L630,295" stroke-width="1.5"/><path d="M597.5,276.5 C596.5,272 597.5,265 601.2,259.1 C604,256 607.5,255 611.4,255.2 C615,255.5 618.5,257 621.5,259.1 C625,261.5 628,264.5 630.5,268.1 C633,271.5 635,275.5 636.1,279.4 C637,283 637,287 636.1,290.6 C635.6,293 634.8,295.5 633.9,297.4" stroke-width="1.9"/><path d="M601.2,271.5 C602.5,268.5 605,266.5 608,266.4 C611,266.2 614.5,267 617,268.7 C620,270.8 622.8,273.8 624.9,277.1 C627,280.5 628.7,284.5 629.4,288.4 C629.8,291 629.8,294 629.4,296.2" stroke-width="1.5"/><path d="M603.5,262.5 C607,259.8 611,259.5 615,261 C619.5,263 623.5,266.5 626.5,271 C629.5,275.5 631.7,280.5 632.5,286 C633,289.5 632.8,293 632,296" stroke-width="1.2"/><path d="M599,273.7 C599.5,278 600,281.5 601.2,283.9 C602.5,286.3 604,287.6 605.7,288.4 M606.5,287.5 C608.5,287.8 610.5,289 612,291" stroke-width="1.5"/><path d="M627,262.5 L642.9,254.6 C644.5,254 645.5,255.5 645.1,257 L644,265.9 C643.5,267 642,268 641,268.5 L636.1,271.5" stroke-width="1.7"/><ellipse cx="636.1" cy="265.3" rx="3.6" ry="1.8" transform="rotate(-38 636.1 265.3)" stroke-width="1.5"/><path d="M638.4,273.7 L650.7,265.9 C652.5,265 654.5,266.5 655.2,269.2 L654.1,274.9 C653.5,276 652.5,277 651.5,277.5 L640.6,285" stroke-width="1.7"/><ellipse cx="646.2" cy="276.6" rx="3.6" ry="1.8" transform="rotate(-38 646.2 276.6)" stroke-width="1.5"/><path d="M636.1,271.5 L637.5,281 M630.5,268.1 L627,262.5" stroke-width="1.5"/><ellipse cx="600.3" cy="293.3" rx="9.8" ry="6.3" transform="rotate(-24 600.3 293.3)" stroke-width="2.0"/><ellipse cx="600.5" cy="292.7" rx="3.2" ry="1.6" transform="rotate(-24 600.5 292.7)" stroke-width="1.8"/><path d="M591.0,295.8 C593.3,301.3 606.3,300.8 609.6999999999999,293.8" stroke-width="2.4"/><ellipse cx="557.8" cy="317.6" rx="9.8" ry="6.3" transform="rotate(-24 557.8 317.6)" stroke-width="2.0"/><ellipse cx="558.0" cy="317.0" rx="3.2" ry="1.6" transform="rotate(-24 558.0 317.0)" stroke-width="1.8"/><path d="M548.5,320.1 C550.8,325.6 563.8,325.1 567.1999999999999,318.1" stroke-width="2.4"/><path d="M566.3,312.5 L588.8,299.4" stroke-width="1.5"/><path d="M569.5,318.5 L592.0,305.5" stroke-width="1.5"/><path d="M570.5,322.3 L596.0,308.0" stroke-width="2.2"/><path d="M527.5,324.4 L547.5,323.7 L551,321 M528.8,328.8 C531,327.5 534,327.5 536,329 M533.8,332.5 C540,331 547,330.5 553.8,330.6 M536.3,335 C542,334 548,333.5 553.8,333.2" stroke-width="1.4"/><path d="M537,324.5 L540.5,327.5 L544,324 L547,327 L550,323.5" stroke-width="1.6"/><path d="M518.0,310.0 L535.3,310.0" stroke-width="1.5"/><path d="M600.8,319.5 L600.8,340.8" stroke-width="1.5"/><ellipse cx="525" cy="355.8" rx="5.8" ry="3.6" transform="rotate(-20 525 355.8)" stroke-width="2.0"/><ellipse cx="525.6" cy="355.4" rx="2.2" ry="1.3" transform="rotate(-20 525.6 355.4)" stroke-width="1.2" fill="#111"/><path d="M503.3,355.0 L519.5,355.8" stroke-width="1.5"/><path d="M530.8,344.2 L527.5,350.8" stroke-width="1.5" stroke-dasharray="2.5,1.5"/><path d="M520.8,365.8 L516.7,375.0" stroke-width="1.5" stroke-dasharray="2.5,1.5"/><path d="M511.5,373.8 L518.3,376.8 L514.5,385 L507.8,382 Z" stroke-width="1.5"/><path d="M510.5,376.2 L517.2,379.2 M509.5,378.4 L516.2,381.4 M508.6,380.5 L515.3,383.3" stroke-width="1.2"/><path d="M503.5,382 L512,385.5 L511.7,391.5 L507,394 L501,391 L500.8,385 Z" stroke-width="1.6"/><path d="M505.0,384.0 L504.5,392.5" stroke-width="1.1"/><path d="M500.5,391.5 L487,418.5 C486,421 488,423.5 490.5,423 C491.5,422.8 492.3,422 492.8,421 L509.2,394.3" stroke-width="1.7"/><path d="M511.7,395.0 L526.7,395.0" stroke-width="1.5"/><path d="M485,431 C486.5,428.7 490.5,429.5 492,431.5 C493,433.5 492,435 491,436 L471,460 C469.5,462 466.5,462 465,460 C463.8,458.5 463.8,456.5 465,455 Z" stroke-width="1.7"/><path d="M485,431 C484.5,433 487,435.5 491,436" stroke-width="1.5"/><path d="M481.7,449.2 L496.7,450.0" stroke-width="1.5"/><path d="M596.5,345.5 L596.5,357 M602.8,344.8 L603,357 M596.5,345.5 C597.5,343.8 601.5,343.5 602.8,344.8" stroke-width="1.5"/><path d="M596.5,348.5 L603,347.5 M596.5,351.5 L603,350.5 M596.5,354.5 L603,353.5" stroke-width="1.2"/><path d="M593.5,359.5 C594,356.5 598,355.5 600.5,355.5 C604,355.5 607.5,356.5 608,359 L608.2,366.5 C607.5,369.5 604,370.5 600.8,370.5 C597.5,370.5 594,369.5 593.5,366.5 Z" stroke-width="1.7"/><path d="M593.8,362 C596,364 605,364 608,362 M596,365 L596.5,369.5 M599,365.5 L599,370 M602,365.5 L602,370 M605,365 L605,369.5" stroke-width="1.1"/><path d="M608.3,366.7 L619.2,366.7" stroke-width="1.5"/><path d="M643,314.5 L649,311.3 L656.5,313 L662.5,318 L663.5,325 L657.5,329.5 L650,331 L644,327.5 L641.5,321 Z" stroke-width="1.7"/><path d="M649,311.3 L652,317 L650,331 M652,317 L662.5,318" stroke-width="1.2"/><path d="M656,313 L679.5,303 C682,302.5 683.5,305 683,308 C682.5,311.5 681,313.5 679,314.3 L662.5,319.5" stroke-width="1.6"/><path d="M664,310 L666.5,317.5 M667.5,308.5 L670,316.5 M671,307 L673.5,315.3 M674.5,305.5 L677,314.5 M678,304 L680.2,313.5" stroke-width="1.5"/><path d="M675.8,320.0 L675.8,334.2" stroke-width="1.5"/><path d="M683.5,304.5 L700.0,296.7" stroke-width="1.5"/><path d="M952.7,236.6 C948,238 944,240 943.1,241 C940,243.5 939.2,246 939.2,248 L938.7,253.2 C939,255 940,255.7 941.4,255.9 L946.6,257.6 L945,252.5 C944.5,250 945,247 947.5,245.4 C949.5,244.3 951,244.3 952.7,244.5 C955,244.8 957,245.2 958.9,246.2 C960.8,247.3 962.2,248.5 963.2,249.7 C964.5,251 965.3,252.5 965.9,254.1 L967.2,262 L967.6,271.6 C968.3,273.5 969.5,274.8 971.1,275.1 L975.5,276 C976.6,276 977.3,275 977.7,274.2" stroke-width="1.8"/><path d="M946.6,257.6 L949.5,251.5 C954,252.5 960,255.5 965.5,259" stroke-width="1.5"/><path d="M952.7,236.6 C958,237 963,240 968.5,246.2 C971.5,250 973,253 973.7,256.7 C975,261 975.5,264.5 975.5,268.1 L977.7,274.2" stroke-width="1.6"/><path d="M955.0,235.8 L1022.7,194.6" stroke-width="1.8"/><path d="M1022.7,194.6 C1024.5,193 1026.5,192 1028.9,191.6 C1032,191 1035,191 1037.6,191.6 C1041,192.5 1044,194 1046.4,196.4 C1049.5,199 1052,202.5 1054.2,206 C1056.3,210 1057.6,214 1058.2,218.2 C1059,222.5 1059.3,227 1059,231.4 C1058,232.3 1057,232.7 1056,232.7 L1050.7,233.6" stroke-width="1.8"/><path d="M1025,193.7 C1036,193.5 1046,201 1050.5,211 C1053.5,218 1054.5,226 1054,233.2" stroke-width="1.6"/><path d="M977.7,274.2 L1050.7,233.8" stroke-width="1.8"/><path d="M958.5,234.5 C969.1,234.5 977.7,252.4 977.7,274.2 M961.1,232.9 C971.0,232.9 979.1,251.1 979.1,273.4 M963.8,231.2 C973.7,231.2 981.8,249.6 981.8,271.9 M966.4,229.6 C976.3,229.6 984.4,248.0 984.4,270.5 M969.1,228.0 C979.0,228.0 987.1,246.5 987.1,269.0 M971.7,226.4 C981.6,226.4 989.7,244.9 989.7,267.5 M974.4,224.8 C984.3,224.8 992.4,243.3 992.4,266.1 M977.0,223.1 C986.9,223.1 995.0,241.8 995.0,264.6 M979.7,221.5 C989.6,221.5 997.7,240.2 997.7,263.1 M982.3,219.9 C992.2,219.9 1000.3,238.7 1000.3,261.7 M985.0,218.2 C994.9,218.2 1003.0,237.1 1003.0,260.2 M987.6,216.6 C997.5,216.6 1005.6,235.6 1005.6,258.8 M990.2,215.0 C1000.1,215.0 1008.2,234.0 1008.2,257.3 M992.9,213.4 C1002.8,213.4 1010.9,232.5 1010.9,255.8 M995.5,211.8 C1005.4,211.8 1013.5,230.9 1013.5,254.4 M998.2,210.1 C1008.1,210.1 1016.2,229.4 1016.2,252.9 M1000.8,208.5 C1010.7,208.5 1018.8,227.8 1018.8,251.4 M1003.5,206.9 C1013.4,206.9 1021.5,226.3 1021.5,250.0 M1006.1,205.2 C1016.0,205.2 1024.1,224.7 1024.1,248.5 M1008.8,203.6 C1018.7,203.6 1026.8,223.2 1026.8,247.0 M1011.4,202.0 C1021.3,202.0 1029.4,221.6 1029.4,245.6 M1014.1,200.4 C1024.0,200.4 1032.1,220.1 1032.1,244.1 M1016.7,198.8 C1026.6,198.8 1034.7,218.5 1034.7,242.7 M1019.4,197.1 C1029.3,197.1 1037.4,217.0 1037.4,241.2 M1022.0,195.5 C1031.9,195.5 1040.0,215.4 1040.0,239.7" stroke-width="1.7"/><path d="M974.4,207.8 L974.4,223.0" stroke-width="1.5"/><path d="M963,315 L1018,285.5 C1020,284.5 1022,284.3 1024,284.8 L1028,286.5 L1032,287 L1039,289 C1041,289.5 1042.5,290.5 1043.5,292 L1052,304 C1052.5,305.5 1052,306.5 1051,307 L969,351" stroke-width="1.8"/><path d="M965,318.5 L1021,289.5 L1044,301 L1048.5,305.5 L971,348" stroke-width="1.5"/><path d="M932,327 C932,322 933,320 935,318 C938,314.5 941.5,313 945,313 C949,313 952.5,314 955,316 C958.5,318.5 961,320.5 963,323 C965.8,327 967.2,330.5 968,334 C969,338 969.5,342 969,345 C968.8,348 968,350.5 967,352 C965,355.5 962,357.5 959,359 C956,359.5 954,358.5 952,357" stroke-width="1.8"/><path d="M939,319.5 C942,317 946,316.5 949,317 C953,318 956.5,320.5 959,323.5 C961.5,327 963,330.5 964,335 C964.8,339 964.7,343 964,347" stroke-width="1.4"/><path d="M932,327 C929,331 925,336 921,341 L914,348 C913,349.5 912.8,351 913.5,352.5 L925,367 C926,368.3 927.3,368.5 928.5,368 L951.5,356" stroke-width="1.8"/><path d="M919.5,351 L935,336 L948,328 M920,352 L924,351 L947.5,333 L950,329 M930,365 L956,345 L960.5,338 M938.5,360.5 L961,338" stroke-width="1.5"/><ellipse cx="930" cy="343" rx="2.4" ry="1.3" transform="rotate(-40 930 343)" stroke-width="1.5" fill="#111"/><ellipse cx="941" cy="356" rx="2.6" ry="1.4" transform="rotate(-40 941 356)" stroke-width="1.5"/><path d="M936.5,321.5 C938,319.5 940.5,319.5 941.8,321 C942.5,322.5 942,324.5 940.5,325.5" stroke-width="1.4"/><ellipse cx="1010.8" cy="308.8" rx="10" ry="6" transform="rotate(-25 1010.8 308.8)" stroke-width="1.7"/><ellipse cx="1011" cy="308.2" rx="4" ry="2.4" transform="rotate(-25 1011 308.2)" stroke-width="1.4"/><ellipse cx="975.2" cy="332.8" rx="4.5" ry="3.5" transform="rotate(-25 975.2 332.8)" stroke-width="1.5"/><path d="M978.8,334.0 L1002.0,320.0" stroke-width="1.4"/><path d="M980.5,338.5 L1003.8,325.0" stroke-width="1.4"/><path d="M973.0,342.0 L1019.0,316.0" stroke-width="1.2"/><path d="M1018,293 L1017,301 M1020,290 L1026,291 L1034,294.5 L1029,304 L1022,302 Z M1034,294.5 L1044,291.5" stroke-width="1.5"/><ellipse cx="1028.3" cy="298" rx="1.8" ry="2.2" transform="rotate(0 1028.3 298)" stroke-width="0.8" fill="#111"/><path d="M1047.3,279.0 L1047.3,295.0" stroke-width="1.5"/><path d="M973.5,356.3 L973.5,373.6" stroke-width="1.5"/><path d="M1049.0,314.0 L1051.5,318.0" stroke-width="1.5" stroke-dasharray="2,1.5"/><ellipse cx="1057.6" cy="322.5" rx="6.2" ry="6.8" transform="rotate(0 1057.6 322.5)" stroke-width="2.2"/><ellipse cx="1057.2" cy="322.2" rx="2.9" ry="3.2" transform="rotate(-30 1057.2 322.2)" stroke-width="1.4" fill="#111"/><path d="M1052.5,330.0 L1052.5,342.5" stroke-width="1.5"/><path d="M1066.5,330.5 L1072.0,336.0" stroke-width="1.5" stroke-dasharray="2,1.5"/><path d="M1072,334.5 L1077.5,331.5 L1083,340 L1077.5,343 Z" stroke-width="1.5"/><path d="M1074,337.5 L1079,334.5 M1075.6,340 L1080.6,337" stroke-width="1.2"/><path d="M1078,342 L1084,338.5 L1091.5,344 L1092,350 L1087,353 L1080.5,348.5 Z" stroke-width="1.7"/><path d="M1088,351.5 L1101.5,366 C1103,367.5 1106,367.3 1107,365.5 C1107.8,364 1107.5,362.5 1106.5,361.5 L1092,346" stroke-width="1.7"/><path d="M1087.5,325.6 L1087.5,339.0" stroke-width="1.5"/><path d="M1111,369 C1113,366.5 1117,367 1118.5,369 L1135.5,388 C1137,390 1136.5,392.7 1134.5,393.5 C1132.5,394.3 1130.5,393.5 1129.5,392 L1110.5,373.5 C1109.3,372 1109.5,370.3 1111,369 Z" stroke-width="1.8"/><ellipse cx="1114.2" cy="371" rx="3.2" ry="2.4" transform="rotate(-40 1114.2 371)" stroke-width="1.4"/><path d="M1123.5,360.0 L1121.0,372.0" stroke-width="1.5"/><path d="M894.9,332.4 L894.9,346.0" stroke-width="1.4"/><path d="M895,346 L893,349.5 C892.5,351 893.5,352 895,351.3 L897.5,350.5 L902.5,353.8 L898.3,360.8 L896,362.5" stroke-width="2.4"/><path d="M882.5,373.3 C884,369.5 886,367 887.5,365.8 C890.5,363.5 893,362.5 895.8,362.5 C899,362.3 902,363.5 904.2,365.8 C905.5,367 905.5,368.5 905,369.2 C903.5,372 902,374 900,375.8 C897.5,378 894.5,379.5 891.7,380 C889,380.5 886.5,379.8 884.6,378.3 C883,377 882.3,375 882.5,373.3 Z" stroke-width="1.6" fill="#111"/><path d="M886,374.5 C889,370.5 894,367 899.5,366.3 M888,376.8 C891,373.5 896,370 901.5,369 M893.5,377 L898.5,373" stroke="#fff" stroke-width="0.7"/><path d="M886.0,379.0 L880.5,386.5" stroke-width="3"/><path d="M969.5,377 L969.5,389.5 M976,376.5 L976.3,389 M969.5,377 C970.5,375.3 974.5,375 976,376.5" stroke-width="1.5"/><path d="M969.5,380 L976,379 M969.5,383 L976,382 M969.5,386 L976,385" stroke-width="1.2"/><path d="M966,392 C966.5,389 970.5,388 973,388 C976.5,388 980,389 980.5,391.5 L980.7,398.5 C980,401.5 976.5,402.3 973.3,402.3 C970,402.3 966.5,401.5 966,398.5 Z" stroke-width="1.7"/><path d="M966.3,394.5 C968.5,396.5 977.5,396.5 980.5,394.5 M968.5,397.5 L969,401.5 M971.5,398 L971.5,402 M974.5,398 L974.5,402 M977.5,397.5 L977.5,401.5" stroke-width="1.1"/><path d="M981.2,395.6 L994.6,395.6" stroke-width="1.5"/><path d="M758.3,368.5 L783,357.3 C785,355 787,353 789,352 C793,350 797,349 801,349 C805,349 808,349.5 810,350.5 C812.5,351.5 814.5,353 816,355 L840,382 L870,419.5 L892.5,448 C895,452 897.5,456 898.5,460 C899.8,463 900.3,465.5 900,467.5 L898.5,490 C897.5,494 895.5,498.5 892.5,502 C890.5,504 888,505.5 885,506.5 L876,511 C874,511.5 872,510 870,508 L855,494.5 L825,475 C816,469 808,463 801,457 C793,449 786,440 780,430 C774,421 770,412 766.5,403 C762,393 759.5,385 759,379 Z" stroke-width="1.9"/><path d="M760.5,370 C761,379 763,389 766.5,400 C771,412 776,422 782,431 C789,441 796,449 803,455.5 C810,462 818,468 826,473.5 L855,492 L874.5,502 C877,502 879,500.5 880.5,499 C883,495.5 884.5,492.5 885,490 L886.5,475 C886.5,471 886,467.5 885,464.5 C883.5,461 881.5,457.5 879,454 L855,424 L828,394 L810,374.5 C806,369.5 803,365.5 799.5,362.5 C797,359 794.5,357.3 792,357.3 C789,357.3 787,357.5 784.5,358 L760.5,367.7" stroke-width="1.4"/><path d="M772.5,364 C773,369 774,374 775.5,379 C778,387 781,395 784.5,403 C789,411 794,418 799.5,424 C805,431 812,438.5 819,445 C828,453 837,460.5 846,467.5 C857,476 867,485 877.5,494.5" stroke-width="1.5"/><path d="M801,395.5 L814.5,388 L846,424 L825,436 Z" stroke-width="1.7"/><path d="M807,397.7 L814.5,393.5 L840,421 L828,428.5 Z" stroke-width="1.4"/><path d="M816,398 L834.5,420.5" stroke-width="2.6"/><ellipse cx="794.3" cy="401.5" rx="2.8" ry="3.4" transform="rotate(-20 794.3 401.5)" stroke-width="1.5"/><ellipse cx="852" cy="458.5" rx="10.5" ry="13.2" transform="rotate(-28 852 458.5)" stroke-width="1.9"/><ellipse cx="874.5" cy="481.7" rx="2.8" ry="3.4" transform="rotate(-20 874.5 481.7)" stroke-width="1.5"/><path d="M816.3,338.8 L816.3,353.8" stroke-width="1.5"/><path d="M870.0,484.7 L777.0,536.5" stroke-width="1.5"/><path d="M922.5,456.3 L903.8,466.3" stroke-width="1.5"/><ellipse cx="958.8" cy="437.6" rx="5.8" ry="10.2" transform="rotate(-20 958.8 437.6)" stroke-width="2.0"/><ellipse cx="960.2" cy="437.2" rx="3.4" ry="7.6" transform="rotate(-20 960.2 437.2)" stroke-width="1.4"/><path d="M945,431 C948,428.3 952,427.2 955.5,427.8 M948.5,447.5 L955,446.8" stroke-width="1.8"/><ellipse cx="949.6" cy="439.8" rx="5" ry="7" transform="rotate(-25 949.6 439.8)" stroke-width="1.8"/><path d="M945.2,435 L925.5,444.8 M951.5,445.8 L930,456.8" stroke-width="1.9"/><ellipse cx="927.7" cy="451.4" rx="3.3" ry="5" transform="rotate(-25 927.7 451.4)" stroke-width="1.8"/><path d="M930.2,444.5 L933.5,454.5 M932.8,443.2 L936.3,453.3 M935.4,441.9 L939,452 M938,440.6 L941.6,450.6 M940.6,439.3 L944.2,449.3" stroke-width="1.5"/><path d="M957.5,447.5 L957.5,463.8" stroke-width="1.5"/><ellipse cx="704.2" cy="394.8" rx="8.5" ry="3.4" transform="rotate(-25 704.2 394.8)" stroke-width="1.7"/><path d="M698,398.5 L713,422 M709.7,395.5 L723.5,418.5" stroke-width="1.7"/><ellipse cx="718.3" cy="420.4" rx="5.6" ry="2.7" transform="rotate(-30 718.3 420.4)" stroke-width="1.6"/><ellipse cx="718.5" cy="421.2" rx="3.6" ry="1.6" transform="rotate(-30 718.5 421.2)" stroke-width="1.2"/><path d="M689.7,410.9 L705.5,410.9" stroke-width="1.5"/><path d="M721.3,425.1 L730.8,441.0" stroke-width="1.5"/><ellipse cx="667.3" cy="467.8" rx="5.8" ry="7.8" transform="rotate(-25 667.3 467.8)" stroke-width="1.8"/><ellipse cx="667.5" cy="468" rx="3" ry="4" transform="rotate(-25 667.5 468)" stroke-width="1.5"/><path d="M663.2,461.5 L713.4,444.1 C716,443.2 718.5,443 720,443.6 C722,444.5 722.5,446 722,447" stroke-width="1.8"/><path d="M668,474.5 L678,469.8 C680,469.2 683,469.5 684,471" stroke-width="1.5"/><path d="M722,447 L776,537.5 C777.5,541 776.5,545 774.3,547" stroke-width="1.8"/><path d="M714.5,448.5 L764.5,532" stroke-width="1.4"/><ellipse cx="751.4" cy="551" rx="7.8" ry="7.2" transform="rotate(-20 751.4 551)" stroke-width="1.8"/><ellipse cx="751.6" cy="550.6" rx="4" ry="3.6" transform="rotate(-20 751.6 550.6)" stroke-width="1.5"/><path d="M744,556 C746,560 750.5,561 754,560 L774.3,547" stroke-width="1.8"/><path d="M662,472 C665,479 668,485 672.2,482.9 C680,496 688,508 691.2,509.8 C700,520 710,529 718.1,535.1 C728,544 738,551 744,556" stroke-width="1.8"/><path d="M672,468.5 C676,478 682,489 690,500 C698,512 710,525 726,539 L741,550" stroke-width="1.4"/><path d="M683.3,471.8 L729.2,516.1 M690,469.5 L734.5,514" stroke-width="1.5"/><ellipse cx="734" cy="524.1" rx="7.5" ry="9.5" transform="rotate(-25 734 524.1)" stroke-width="1.8"/><ellipse cx="734.3" cy="524.5" rx="4" ry="5.2" transform="rotate(-25 734.3 524.5)" stroke-width="1.5"/><path d="M702.3,460.7 L714,455.3 C716.5,454.8 718,456.2 717.8,458.4 C717.5,460.5 716,461.8 714.5,462.2 L704.5,466.5" stroke-width="1.5"/><ellipse cx="702.5" cy="463.5" rx="3" ry="4" transform="rotate(-20 702.5 463.5)" stroke-width="1.4"/><path d="M705.5,471.8 L710.5,468.2 L716.5,475.5 L716.3,479.3 L710.5,480.5 L705.5,476.5 Z" stroke-width="1.5"/><path d="M694,465 C697,463.5 700.5,463.5 702,466 L705.5,471.8" stroke-width="1.5"/><ellipse cx="687" cy="466.3" rx="5" ry="2.3" transform="rotate(-25 687 466.3)" stroke-width="1.4"/><path d="M729.2,446 L740.3,440.2 C742,439.8 743.3,441 743,443.2 L742.5,446 L731.5,453.5" stroke-width="1.6"/><ellipse cx="735.6" cy="447.3" rx="2.8" ry="1.4" transform="rotate(-35 735.6 447.3)" stroke-width="1.5"/><path d="M737.1,470.2 L753,465.5 C754.8,465.3 755.8,466.7 755.5,468.5 L755.3,471 L740.3,481.3" stroke-width="1.6"/><ellipse cx="747.5" cy="472.5" rx="2.8" ry="1.4" transform="rotate(-35 747.5 472.5)" stroke-width="1.5"/><path d="M675.4,505.9 L691.2,505.9" stroke-width="1.5"/><path d="M749.0,478.1 L759.3,490.8" stroke-width="1.5"/><ellipse cx="762.5" cy="497.5" rx="9.0" ry="3.4" transform="rotate(-28 762.5 497.5)" stroke-width="2.0" fill="#222"/><path d="M757,500.2 L768,494.3" stroke="#fff" stroke-width="0.9"/><path d="M759,498 L761,502 M763,496 L765,500" stroke-width="1.2"/><path d="M772.5,496.3 L780.0,496.3" stroke-width="1.5"/><ellipse cx="501.5" cy="711.5" rx="18.3" ry="11.3" transform="rotate(70 501.5 711.5)" stroke-width="1.9"/><path d="M496.7,693.3 C500,692 503,691 505,690.8 L509.2,689.2" stroke-width="1.8"/><path d="M505,690.8 C508,693 510,697 510.8,698.3 C512.8,702 514,705 514.2,708.3 C515,712 515.2,716 515,719.2 L516.7,723.3" stroke-width="1.6"/><path d="M509.2,689.2 L526.7,681.7 L544.2,671.7 C546,670 547.5,668 549.2,666.7 L555,661.7 L570,653.3 C573,652.5 577,652.8 580,654.2 C582.5,655.5 584.5,657 585.8,659.2 C587.3,662 588,664.5 588.3,667.5 L588.3,680 L586.7,683.3" stroke-width="1.8"/><path d="M507.5,729.2 C510,728 512,726.5 513.3,725 L519.2,720.8 L586.7,683.3" stroke-width="1.8"/><path d="M508.8,689.6 C514.6,687.9 524.1,720.7 518.3,722.4 M511.7,688.1 C517.4,686.4 526.9,719.1 521.2,720.7 M514.6,686.6 C520.3,684.9 529.8,717.4 524.1,719.1 M517.5,685.0 C523.2,683.3 532.7,715.8 527.0,717.4 M520.3,683.5 C526.1,681.8 535.6,714.1 529.8,715.8 M523.2,682.0 C529.0,680.3 538.5,712.4 532.7,714.1 M526.1,680.5 C531.9,678.7 541.4,710.8 535.6,712.5 M529.0,678.9 C534.7,677.2 544.2,709.1 538.5,710.9 M531.9,677.4 C537.6,675.7 547.1,707.5 541.4,709.2 M534.8,675.9 C540.5,674.2 550.0,705.8 544.2,707.6 M537.6,674.4 C543.4,672.6 552.9,704.2 547.1,705.9 M540.5,672.8 C546.3,671.1 555.8,702.5 550.0,704.3 M543.4,671.3 C549.1,669.6 558.6,700.9 552.9,702.6 M546.3,669.8 C552.0,668.0 561.5,699.2 555.8,701.0 M549.2,668.2 C554.9,666.5 564.4,697.6 558.7,699.3 M552.0,666.7 C557.8,665.0 567.3,695.9 561.5,697.7 M554.9,665.2 C560.7,663.4 570.2,694.3 564.4,696.0 M557.8,663.7 C563.5,661.9 573.0,692.6 567.3,694.4 M560.7,662.1 C566.4,660.4 575.9,690.9 570.2,692.7 M563.6,660.6 C569.3,658.8 578.8,689.3 573.1,691.1 M566.5,659.1 C572.2,657.3 581.7,687.6 576.0,689.4 M569.4,657.6 C575.1,655.8 584.6,686.0 578.9,687.8 M572.2,656.0 C578.0,654.2 587.5,684.3 581.7,686.1 M575.1,654.5 C580.8,652.7 590.3,682.7 584.6,684.5 M578.0,653.0 C583.8,651.3 592.5,681.6 586.7,683.3" stroke-width="1.75"/><path d="M556.7,646.7 L556.7,660.8" stroke-width="1.5"/><path d="M589.2,660.0 L626.7,640.0 L606.7,674.2" stroke-width="1.5"/><ellipse cx="952.6" cy="725.8" rx="15.5" ry="10.5" transform="rotate(66 952.6 725.8)" stroke-width="1.9"/><ellipse cx="952.9" cy="727" rx="10.3" ry="7" transform="rotate(66 952.9 727)" stroke-width="1.6"/><path d="M952,733 C950,729 951.5,725 955,724.5" stroke-width="1.5"/><path d="M947.5,711.3 L1015,670.8 C1016,668.5 1017,667 1018.3,665.8 C1020,664.5 1022,663.8 1024.2,663.75 C1026.5,663.8 1028.8,664.5 1030.8,665.8 C1033.5,667.5 1035.7,669.8 1037.5,672.5 C1039.8,675.5 1041.4,678.5 1042.5,681.7 C1043.6,684.5 1044.2,687.3 1044.2,690 C1044.2,692.8 1043.6,695.3 1042.5,697.5 C1041.6,698.7 1040.5,699.5 1039.2,700 L1033.3,702.5" stroke-width="1.8"/><path d="M1015,671.7 C1017.5,668.7 1020,667 1022.5,666.7 C1027,667.5 1031.5,670.5 1035,674 C1037.5,678 1039.3,682.3 1040,686.7 C1040.6,691 1040.2,695 1039.2,698.3" stroke-width="1.5"/><path d="M958.0,740.5 L1033.3,702.5" stroke-width="1.8"/><path d="M955.0,706.8 C961.6,705.8 966.6,738.5 960.0,739.5 M957.7,705.2 C964.3,704.2 969.3,737.2 962.7,738.2 M960.3,703.6 C966.9,702.6 971.9,735.8 965.3,736.8 M963.0,702.0 C969.6,701.1 974.6,734.5 968.0,735.5 M965.7,700.5 C972.3,699.5 977.3,733.2 970.7,734.1 M968.4,698.9 C975.0,697.9 980.0,731.8 973.4,732.8 M971.0,697.3 C977.6,696.3 982.6,730.5 976.0,731.4 M973.7,695.7 C980.3,694.7 985.3,729.1 978.7,730.1 M976.4,694.1 C983.0,693.2 988.0,727.8 981.4,728.7 M979.1,692.5 C985.7,691.6 990.7,726.4 984.1,727.4 M981.7,690.9 C988.3,690.0 993.3,725.1 986.7,726.0 M984.4,689.3 C991.0,688.4 996.0,723.7 989.4,724.7 M987.1,687.8 C993.7,686.8 998.7,722.4 992.1,723.3 M989.8,686.2 C996.4,685.2 1001.4,721.1 994.8,722.0 M992.4,684.6 C999.0,683.7 1004.0,719.7 997.4,720.6 M995.1,683.0 C1001.7,682.1 1006.7,718.4 1000.1,719.3 M997.8,681.4 C1004.4,680.5 1009.4,717.0 1002.8,717.9 M1000.5,679.8 C1007.1,678.9 1012.1,715.7 1005.5,716.6 M1003.1,678.2 C1009.7,677.3 1014.7,714.3 1008.1,715.2 M1005.8,676.6 C1012.4,675.8 1017.4,713.0 1010.8,713.9 M1008.5,675.1 C1015.1,674.2 1020.1,711.6 1013.5,712.5 M1011.2,673.5 C1017.8,672.6 1022.8,710.3 1016.2,711.2 M1013.8,671.9 C1020.4,671.0 1025.4,708.9 1018.8,709.8 M1016.5,670.3 C1023.1,669.4 1028.1,707.6 1021.5,708.5" stroke-width="1.75"/><path d="M983.8,674.4 L983.8,691.0" stroke-width="1.5"/><path d="M940.0,733.8 L910.8,750.4 L934.8,751.5" stroke-width="1.5"/><path d="M507.5,760.8 L545,739.2 C546.5,738.5 548,738.6 549,739.3 L556.7,746.7 L520,768.3 C519,768.8 517.8,768.7 517,768 Z" stroke-width="1.8"/><path d="M509.5,763.0 L518.0,769.5" stroke-width="1.2"/><path d="M518.5,766.0 L555.5,744.7" stroke-width="1.2"/><ellipse cx="520" cy="757.5" rx="3.6" ry="2.6" transform="rotate(-20 520 757.5)" stroke-width="1.5"/><ellipse cx="543.3" cy="744.2" rx="3.6" ry="2.6" transform="rotate(-20 543.3 744.2)" stroke-width="1.5"/><path d="M517.5,756 L522.5,755.5 M541,742.8 L546,742.3" stroke-width="1.1"/><path d="M533.0,763.3 L533.0,778.3" stroke-width="1.5"/><path d="M974.4,765 L1012.9,742.1 C1014,741.5 1015.5,741.6 1016.5,742.3 L1023.3,748.3 L985.8,772.3 C985,772.8 983.8,772.6 983,772 Z" stroke-width="1.8"/><path d="M976.5,767.2 L984.8,773.5" stroke-width="1.2"/><path d="M985.0,769.8 L1022.0,746.6" stroke-width="1.2"/><ellipse cx="986.9" cy="761.9" rx="3.5" ry="2.6" transform="rotate(-20 986.9 761.9)" stroke-width="1.5"/><ellipse cx="1009.8" cy="748.3" rx="3.5" ry="2.6" transform="rotate(-20 1009.8 748.3)" stroke-width="1.5"/><path d="M1023.3,749.4 L1037.9,749.4" stroke-width="1.5"/><ellipse cx="627.5" cy="750.5" rx="7.8" ry="3.3" transform="rotate(-28 627.5 750.5)" stroke-width="1.7"/><path d="M621.7,753.3 L640,779.8 M632.5,751.7 L648.7,776.3" stroke-width="1.7"/><ellipse cx="644.3" cy="778.3" rx="4.8" ry="2.4" transform="rotate(-35 644.3 778.3)" stroke-width="1.6"/><ellipse cx="644.5" cy="779" rx="3" ry="1.4" transform="rotate(-35 644.5 779)" stroke-width="1.2"/><path d="M630.8,730.8 L630.8,745.5" stroke-width="1.5"/><path d="M645.8,784.2 L652.5,792.5" stroke-width="1.5" stroke-dasharray="2.5,1.5"/><path d="M679.5,679 C681,677 684,676.5 687,677.5 C690,678.5 692,681.5 691.7,685 C691.5,688.5 689.5,691 686.5,691.7 C683,692.3 680,690.5 678.3,687.5 C677,684.5 677.5,681 679.5,679 Z" stroke-width="1.7"/><ellipse cx="683.8" cy="685" rx="4" ry="5" transform="rotate(-20 683.8 685)" stroke-width="2.0"/><path d="M678.5,681.5 L681,679.5 M688.5,690.5 L691,688.5" stroke-width="1.4"/><path d="M687,677.5 L689.5,678.2 L691.8,681" stroke-width="1.2"/><path d="M685.8,691.7 L685.8,705.0" stroke-width="1.5"/><path d="M704,665 C707,662.5 711.5,662.5 714,665 C716.8,668 717.2,673 715.5,677 C713.5,681 709.5,683 706,682 C702.5,681 700,677.5 699.5,673.5 C699.3,670 701,667 704,665 Z" stroke-width="1.7"/><ellipse cx="704.5" cy="674.5" rx="2.4" ry="3.2" transform="rotate(-20 704.5 674.5)" stroke-width="1.4"/><path d="M706,663.5 L708.5,682 M709.5,662.8 L711.5,682.5 M712.8,663.5 L714.5,680.5" stroke-width="1.1"/><path d="M714,666 L731.5,656.5 C733.5,655.5 735.5,657 735.3,659.5 C735,662 733.8,663.5 732,664.3 L716.5,672" stroke-width="1.6"/><path d="M719,663.5 L721.5,670.5 M722.5,661.5 L725,668.7 M726,659.8 L728.5,667 M729.5,658 L732,665" stroke-width="1.2"/><path d="M708.3,650.8 L708.3,661.8" stroke-width="1.5"/><path d="M781.2,612.5 C785,611.5 788,613 790.8,615.3 C796,618.5 800,621.5 802.3,624.9 C805.5,629 807.5,633.5 808,638.3 C809,644 809.5,649 809,653.7 C808,660 806.5,666 804.2,670.9 C799,679 793,685 788.8,690.1 C784.5,696 782,701.5 780.2,707.3 C779.2,713 779,719 779.3,724.6 C779.8,732 781,739 783.1,745.7 C787,752 791.5,757 796.5,761 C802,765.5 807,769 811.8,772.5 C814.5,776 816.2,780 816.6,784 C817,788 815.8,792 813.8,795.5 C811,799 808,801.5 804.2,803.2 C798.5,805.5 793,806.3 786.9,806.1 C781,805.5 777,803.5 773.5,801.3 C769,800 765,797 762,793 C758,788 754.5,783 752,777.75 L757.25,774 L743,745.5 L738,748.5 C736.5,748.5 735,747.5 734.75,746 C734.3,739 734.8,732 736.1,726.5 C738,719 740,713 742.8,707.3 C745.5,700 748,693 750.5,686.3 C753,679 755,672 757.2,665.2 C754,661.5 751.5,658.5 750.5,655.6 C749.5,651.5 749.2,647.5 749.5,644.1 C751,641.5 752.5,639.5 754.3,638.3 C759,632 764,626 769.7,621.1 C773.5,617.5 777,614.5 781.2,612.5 Z" stroke-width="1.9"/><path d="M766,656.5 C773,651 781,648 790.8,646.5" stroke-width="1.4"/><path d="M792.7,649.8 C788,665 782,679 777.3,692 C771,703 765,713 762,722.7 C760,729 759.5,735 760.25,738.75 C761.5,744 763,747 764,750 C767,756 770,761 773,765 C777,769 781,771.5 786.5,773.25" stroke-width="1.4"/><path d="M788.5,614.5 C791.5,613 794.5,614 797,617.5 L802,623" stroke-width="1.4"/><ellipse cx="781.2" cy="631.6" rx="3.3" ry="5.3" transform="rotate(-30 781.2 631.6)" stroke-width="1.6"/><ellipse cx="762" cy="654.6" rx="3.3" ry="5.3" transform="rotate(-30 762 654.6)" stroke-width="1.6"/><ellipse cx="782.6" cy="789.75" rx="10.4" ry="18.4" transform="rotate(-23 782.6 789.75)" stroke-width="1.9"/><ellipse cx="782.4" cy="790.5" rx="7.4" ry="13.5" transform="rotate(-23 782.4 790.5)" stroke-width="1.7"/><path d="M785,781 C788,786 789.5,792 789,798" stroke-width="1.5"/><path d="M743,745.5 L749.75,741.75 L765.9,771 L757.25,774 M734.75,741.75 C742,739 751,738 760.25,738.75" stroke-width="1.6"/><path d="M755,754 L758.5,761" stroke-width="2.2"/><path d="M776.75,774 C779,772 782,771.3 786.5,773.25" stroke-width="1.4"/><path d="M808.0,633.5 L823.3,633.5" stroke-width="1.5"/><path d="M709.3,785.9 L750.5,763.9" stroke-width="1.5"/><path d="M806,721 L812,715.5 L821,715 L827,720.5 L827.5,729.5 L822,736 L813,737.5 L806.5,732 Z" stroke-width="2.0"/><ellipse cx="815.5" cy="727" rx="6.3" ry="7" transform="rotate(-20 815.5 727)" stroke-width="1.8"/><ellipse cx="815.3" cy="727.3" rx="2.2" ry="2.8" transform="rotate(-20 815.3 727.3)" stroke-width="1.6"/><path d="M812,715.5 L814,719.5 M821,715 L822,719.5 M827,720.5 L825,723.5" stroke-width="1.1"/><path d="M826.2,720.8 L840.6,720.8" stroke-width="1.5"/><path d="M804.2,732.3 L786.0,742.8" stroke-width="1.5"/><path d="M758.3,872.4 C760,868 762,866 765,863.5 C768,861 771,860.4 772.5,860.4 C776,860.2 779,861 781,862.5 C784.5,864.5 787,867 788.1,869.6 C789.5,872 790.3,874.5 790.9,876.7 C792.5,878.5 794.5,879.8 796.6,880.9 L809.3,889.4 L822,899.3 C826,902.5 829.5,905 832,907.8 C835,911 837,914.5 839.1,917.7 L846.1,927.6 C848.5,931 851,934 853.2,936.1 C856.5,939 859.5,941 863.1,941.8 C866,942.5 869,943 871.6,943.2 C875,944.2 878,945.8 880.1,947.5 C883,950 884.8,953 885.8,956 C887,959.5 887.5,962.5 887.2,965.9 C886.8,969.5 886,972.8 884.4,975.8 C882.5,979 880,981.3 877.3,982.9 C874,984.7 870.7,985.8 867.4,986.4 C864,986.8 860.5,986.5 857.5,985.7 C853.5,984.7 849.8,983.3 846.1,981.5 L832,973 L817.8,963.1 C815,961 812.7,958.5 810.7,956 L806,952 C803,949 801.5,945 802,941 L789.5,931.9 L772.5,923.4 L756.9,916.3 C753,916.8 750.5,916.7 748.4,916.3 C745.5,915.5 743.5,914.5 742.7,913.5 C740,911 738.7,909 738.5,907.8 C738.3,904 738.8,901.5 739.9,899.3 L747,888 Z" stroke-width="1.9"/><path d="M756.5,899 L806,932.5" stroke-width="1.5"/><path d="M778,873.5 C791,881 804,890 815,901 C822,909 828,918 833,926 C838,934 843,942 849,948.5 C853,953 857,956.5 861,958.5" stroke-width="1.4"/><path d="M775,887 C788,895 800,903 809,911.5 C816,918.5 821,926 825,933 C829,940 833,946 838,952" stroke-width="1.4"/><path d="M820,953 C828,959 836,964.5 845,970" stroke-width="1.5"/><path d="M812,915 L806.5,929.5 M826.3,922.7 L830.5,920.2" stroke-width="1.5"/><path d="M752,884 L758.5,877 M749,893 L756,889" stroke-width="1.5"/><ellipse cx="749" cy="903.5" rx="8.2" ry="10.2" transform="rotate(-25 749 903.5)" stroke-width="1.7"/><ellipse cx="747" cy="905" rx="8.2" ry="10.2" transform="rotate(-25 747 905)" stroke-width="1.8"/><ellipse cx="746.5" cy="905.3" rx="3.8" ry="4.6" transform="rotate(-25 746.5 905.3)" stroke-width="1.6"/><ellipse cx="766.7" cy="880.8" rx="8.2" ry="10.2" transform="rotate(-25 766.7 880.8)" stroke-width="1.7"/><ellipse cx="764.7" cy="882.3" rx="8.2" ry="10.2" transform="rotate(-25 764.7 882.3)" stroke-width="1.8"/><ellipse cx="764.2" cy="882.5999999999999" rx="3.8" ry="4.6" transform="rotate(-25 764.2 882.5999999999999)" stroke-width="1.6"/><ellipse cx="815.5" cy="941.8" rx="8.8" ry="10.8" transform="rotate(-25 815.5 941.8)" stroke-width="1.7"/><ellipse cx="813.6" cy="943.2" rx="8.8" ry="10.8" transform="rotate(-25 813.6 943.2)" stroke-width="1.8"/><ellipse cx="813.3" cy="944" rx="3.3" ry="3.8" transform="rotate(-25 813.3 944)" stroke-width="1.5"/><ellipse cx="851.8" cy="968.7" rx="8.1" ry="10.3" transform="rotate(-25 851.8 968.7)" stroke-width="1.8"/><path d="M791.9,867.9 L819.0,853.3" stroke-width="1.5"/><path d="M849.7,924.8 L884.4,905.0" stroke-width="1.5"/><path d="M776.7,965.9 L805.0,951.7" stroke-width="1.5"/><path d="M860.6,985.6 L860.6,998.1" stroke-width="1.5"/><path d="M755,965 L761,960.3 L770,960.3 L775.3,966 L775.5,975.5 L770,983 L761,985.5 L754.5,980.5 L752.7,972 Z" stroke-width="1.8"/><ellipse cx="764" cy="972.8" rx="6.5" ry="7.3" transform="rotate(-20 764 972.8)" stroke-width="1.8"/><ellipse cx="763.8" cy="973.2" rx="2.3" ry="2.8" transform="rotate(-20 763.8 973.2)" stroke-width="1.6"/><path d="M761,960.3 L762.5,965.5 M770,960.3 L770,965.5 M775.3,966 L771.5,969" stroke-width="1.1"/><path d="M761.7,983.5 L761.7,994.0" stroke-width="1.5"/><path d="M848,827.5 C851,825 855.5,825 858.3,827.5 C861,830.5 861.3,835.5 859.5,839 C857.5,842.5 853.5,843.5 850,842.5 C846.5,841 844.5,837.5 844.3,834 C844.2,831 845.5,829 848,827.5 Z" stroke-width="1.7"/><path d="M850.5,826.3 L852,842.8 M853.5,825.5 L855,843 M856.5,826 L858,842" stroke-width="1.1"/><ellipse cx="848.3" cy="834.6" rx="3" ry="5" transform="rotate(-20 848.3 834.6)" stroke-width="1.4"/><path d="M846,830 L824,843.5 C821.5,845 821,848.5 823,850.5 C824.5,852 826.5,852 828,851 L849.5,839.5" stroke-width="1.6"/><path d="M827.5,841.5 L830.5,849.5 M831,839.5 L834,847.5 M834.5,837.5 L837.5,845.5 M838,835.5 L841,843.5 M841.5,833.5 L844,841" stroke-width="1.2"/><path d="M829.4,824.2 L829.4,838.5" stroke-width="1.5"/><path d="M866.5,816.5 C868.5,814.5 872,814.3 875,815.3 C878,816.5 879.8,819.5 879.4,823 C879,826.5 877,828.8 874,829.4 C870.5,830 867.5,828.3 866,825.3 C864.7,822.3 865,818.5 866.5,816.5 Z" stroke-width="1.7"/><ellipse cx="871.3" cy="822.8" rx="3.8" ry="4.6" transform="rotate(-20 871.3 822.8)" stroke-width="2.2"/><path d="M866,818 L869.5,816 M875.5,827.5 L878.5,825" stroke-width="1.5"/><path d="M869.0,784.6 L869.0,814.5" stroke-width="1.5"/><ellipse cx="897.6" cy="816.3" rx="8" ry="3.3" transform="rotate(-25 897.6 816.3)" stroke-width="1.7"/><path d="M891.5,818.5 L909,846.5 M902.5,816.8 L919,843" stroke-width="1.7"/><ellipse cx="914" cy="844.8" rx="5" ry="2.4" transform="rotate(-32 914 844.8)" stroke-width="1.6"/><ellipse cx="914.2" cy="845.5" rx="3.1" ry="1.4" transform="rotate(-32 914.2 845.5)" stroke-width="1.2"/><path d="M901.2,798.0 L901.2,812.5" stroke-width="1.5"/><path d="M913.8,847.5 L920.0,856.5" stroke-width="1.5"/><ellipse cx="967.4" cy="857" rx="11" ry="15" transform="rotate(-22 967.4 857)" stroke-width="1.9"/><ellipse cx="967.6" cy="856.8" rx="7.2" ry="10.5" transform="rotate(-22 967.6 856.8)" stroke-width="1.6"/><path d="M961.9,830.6 L961.9,841.5" stroke-width="1.5"/><path d="M897.5,885.8 L896.9,880 C897,879 897.5,878.5 898.2,877.8 L910.3,865.4 L934.8,852 C936.2,851.5 937.4,851.9 937.8,853.2 L938,855.5 C938,856.5 937.5,857.5 936.8,858.5 L927.8,868.3 L923,870.5 L916.5,868" stroke-width="1.8"/><path d="M915.6,866.6 L917.3,870.1 L928.4,887.6 L950,877.1 C951,876.6 952.2,876.8 952.8,877.7 L953.3,879.5 C953.3,880.5 952.8,881.5 952,882.3 L938,893 L913.8,909.2 C913,909.8 912.7,910.3 912.7,910.3" stroke-width="1.8"/><path d="M910.3,867.5 L925.5,893.4 L940,886.5" stroke-width="1.4"/><path d="M917.5,868.5 L935.5,856.7 M929.5,888.5 L949.5,878.8" stroke-width="1.2"/><path d="M907.4,899.8 L912.7,910.3 M897.5,885.8 L902,888" stroke-width="1.6"/><path d="M922.8,893.5 L917.5,899.5 L913.8,909.2" stroke-width="1.5"/><ellipse cx="924.5" cy="866.2" rx="2.4" ry="1.2" transform="rotate(-30 924.5 866.2)" stroke-width="1.2" fill="#111"/><ellipse cx="939.5" cy="892.3" rx="2.4" ry="1.2" transform="rotate(-30 939.5 892.3)" stroke-width="1.2" fill="#111"/><path d="M910.3,884.1 C911.5,883.6 913.2,884 914,885.5 C914.8,887.5 915,890 914.4,893.4 L905.5,898.5" stroke-width="1.7"/><path d="M910.3,884.1 L903,887.8 M886.4,896.3 L903,887.8 M889.3,906.3 L905.5,898.5" stroke-width="1.7"/><ellipse cx="888.6" cy="901.4" rx="3.4" ry="5.2" transform="rotate(-25 888.6 901.4)" stroke-width="1.7"/><path d="M891.5,894.8 L893.2,904.5 M894,893.5 L895.7,903.3 M896.5,892.2 L898.2,902 M899,890.9 L900.7,900.7 M901.5,889.6 L903.2,899.4" stroke-width="1.2"/><path d="M913.8,910.6 L913.8,928.3" stroke-width="1.5"/><path d="M914.4,847.3 L919.7,856.1" stroke-width="1.5"/><path d="M942.7,897.5 L950.6,911.5" stroke-width="1.5"/><ellipse cx="952.8" cy="916.9" rx="8.0" ry="3.1" transform="rotate(-30 952.8 916.9)" stroke-width="2.0" fill="#222"/><path d="M947.5,919.5 L958,913.8" stroke="#fff" stroke-width="0.9"/><path d="M959.6,917.9 L972.1,917.9" stroke-width="1.5"/><path d="M666.5,799.5 L643.5,811.7 C641.8,812 641.2,810 642.3,808.5 L654.3,794.8 L678.2,782.6 C679.8,781.9 681,782 681.7,782.8 L695.1,805.5 C696,807 695.6,808.3 694.2,809.3 L691.5,811.5" stroke-width="1.8"/><path d="M644.5,809.5 L655.5,797.5 L677,786.3 L691,807.5" stroke-width="1.5"/><path d="M666.5,799.5 L675.8,789 L691,807.5 L675.8,814.7 Z" stroke-width="1.6"/><path d="M678,790.5 L689,805.5 M680.5,789.5 L691.3,804" stroke-width="1.2"/><path d="M692,810.5 L667.7,820.5 C663,824.5 659.5,828.5 657.2,832.8 C656,835 657,837 658.8,836.6 L680,823 L694,812.5" stroke-width="1.8"/><path d="M690.5,812.5 L668.5,822.5 L659.5,833.5" stroke-width="1.2"/><ellipse cx="658.3" cy="800.3" rx="2.3" ry="1.2" transform="rotate(-35 658.3 800.3)" stroke-width="1.2" fill="#111"/><ellipse cx="672.3" cy="824.6" rx="2.3" ry="1.2" transform="rotate(-35 672.3 824.6)" stroke-width="1.2" fill="#111"/><path d="M688,791 L701.5,784 M693.3,800 L704.8,793" stroke-width="1.7"/><ellipse cx="704.4" cy="788.4" rx="3.2" ry="5" transform="rotate(-25 704.4 788.4)" stroke-width="1.7"/><path d="M688,791 C689.5,793 691.5,797 693.3,800" stroke-width="1.5"/><path d="M694.5,788 L696.3,797.5 M696.8,786.8 L698.6,796.3 M699.1,785.6 L700.9,795.1 M701.4,784.4 L703,793.8" stroke-width="1.2"/><path d="M680.5,767.3 L680.5,781.5" stroke-width="1.5"/><path d="M647.3,784.0 L652.7,792.7" stroke-width="1.5"/><path d="M674.7,831.6 L681.7,843.8" stroke-width="1.5"/><ellipse cx="625" cy="833" rx="10.8" ry="13.6" transform="rotate(-20 625 833)" stroke-width="1.9"/><ellipse cx="625" cy="833.2" rx="6.5" ry="9.2" transform="rotate(-20 625 833.2)" stroke-width="1.6"/><path d="M631.3,849.5 L631.3,857.3" stroke-width="1.5"/><ellipse cx="686.7" cy="853.3" rx="8.0" ry="3.2" transform="rotate(-30 686.7 853.3)" stroke-width="2.0" fill="#222"/><path d="M681.5,856 L692,850.3" stroke="#fff" stroke-width="0.9"/><path d="M685.3,858.5 L685.3,872.0" stroke-width="1.2" stroke-dasharray="1.5,1"/><ellipse cx="499.7" cy="906" rx="6.8" ry="8.8" transform="rotate(-30 499.7 906)" stroke-width="1.8"/><path d="M497.2,894.8 C500,892.5 503,891.8 506.2,892 L562.5,859.4 L590.6,841.2 C592,840.5 593.5,841 594,842 L601.3,858.5 C601.5,860 601,861.5 599.5,862 L592.9,865 L505.1,914.5 C503,915.5 500.5,915.5 498.5,914.5" stroke-width="1.8"/><path d="M506.2,892 C508,895 510,898 511,901 L573.7,867.2" stroke-width="1.4"/><path d="M508.5,893 L562.5,862" stroke-width="1.2"/><path d="M562.5,858.5 C567,861 570.5,864 573.7,867.2 M573.7,850.4 C578,853.5 582,858 584.5,864 M578.5,847.5 C583,851 586,856.5 587.5,863 M586,842.5 C590,846 592,851 593,856 L592.9,865" stroke-width="1.4"/><ellipse cx="517" cy="895.9" rx="1.8" ry="1.4" transform="rotate(-30 517 895.9)" stroke-width="1" fill="#111"/><ellipse cx="540" cy="881.9" rx="1.8" ry="1.4" transform="rotate(-30 540 881.9)" stroke-width="1" fill="#111"/><path d="M554.0,845.9 L554.0,862.7" stroke-width="1.5"/><path d="M491.0,911.7 L462.4,926.9 L482.0,893.1" stroke-width="1.5"/><path d="M538.9,925.7 L538.9,913 C539.5,911.5 541.6,911.5 542.2,913 L542.2,925.7" stroke-width="1.5"/><path d="M538.9,915 L542.2,914.3 M538.9,917.5 L542.2,916.8 M538.9,920 L542.2,919.3 M538.9,922.5 L542.2,921.8" stroke-width="1.1"/><path d="M533.5,927 C534.5,924.5 537.5,923.8 540.5,923.8 C543.5,923.8 546,924.5 546.7,927 L546.2,930.5 C545,932 543,932.5 540.5,932.5 C538,932.5 535.5,932 534,930.5 Z" stroke-width="1.7"/><path d="M535.5,931.5 L535.5,935 C537,936.8 544,936.8 545.5,935 L545.5,931.5" stroke-width="1.5"/><path d="M539.4,897.6 L539.4,909.0" stroke-width="1.5"/><path d="M546.7,928.0 L561.4,928.0" stroke-width="1.5"/><ellipse cx="995.2" cy="839.5" rx="9.5" ry="14" transform="rotate(-30 995.2 839.5)" stroke-width="1.8"/><path d="M988,830 C993,836 996,843 996.5,851" stroke-width="1.5"/><path d="M990.5,826 C993,823.5 996,823 998.3,823.3 L1069.2,785.8 C1072,784 1075.5,783.2 1078.5,783.75 C1081.5,784.5 1084,786.8 1085.8,790 C1086.5,793.5 1086.2,798 1084.8,801.5 L1084.8,802.5 L997,853.5 C995,854.8 992.5,855 990,854" stroke-width="1.8"/><path d="M1015,821.25 C1018,828 1019.5,838 1019.2,848.3 M1011.5,823.3 C1014.5,830 1016,840 1015.5,850" stroke-width="1.5"/><path d="M1017.1,821.25 L1075.4,792 M1020,829 L1081,797.5" stroke-width="1.5"/><ellipse cx="1073.3" cy="789" rx="5" ry="2.8" transform="rotate(-30 1073.3 789)" stroke-width="1.4"/><ellipse cx="1040" cy="814" rx="1.6" ry="1.3" transform="rotate(-30 1040 814)" stroke-width="1" fill="#111"/><ellipse cx="1064" cy="800.4" rx="1.6" ry="1.3" transform="rotate(-30 1064 800.4)" stroke-width="1" fill="#111"/><path d="M1024.4,798.3 L1024.4,814.0" stroke-width="1.5"/><path d="M1086.9,789.0 L1110.8,775.4 L1089.0,774.4" stroke-width="1.5"/><path d="M1038.5,863 L1038.5,851 C1039,849.5 1041.5,849.5 1042,851 L1042,863" stroke-width="1.5"/><path d="M1038.5,853 L1042,852.3 M1038.5,855.5 L1042,854.8 M1038.5,858 L1042,857.3 M1038.5,860.5 L1042,859.8" stroke-width="1.1"/><path d="M1033.5,865 C1034.5,862.5 1037.5,861.8 1040.5,861.8 C1043.5,861.8 1046.5,862.5 1047.3,865 L1046.8,868.5 C1045.5,870 1043,870.5 1040.5,870.5 C1038,870.5 1035.5,870 1034,868.5 Z" stroke-width="1.7"/><path d="M1035.5,869.5 L1035.5,873 C1037,874.8 1044,874.8 1045.5,873 L1045.5,869.5" stroke-width="1.5"/><path d="M1041.0,832.7 L1041.0,847.3" stroke-width="1.5"/><path d="M1046.2,870.2 L1058.8,870.2" stroke-width="1.5"/>
</g>
<g class="lb"><text x="525.1" y="204.1" textLength="38.7" lengthAdjust="spacingAndGlyphs">34028</text><text x="638.2" y="221.9" textLength="49.9" lengthAdjust="spacingAndGlyphs">92144A</text><text x="690.2" y="182.3" textLength="37.9" lengthAdjust="spacingAndGlyphs">14024</text><text x="778.6" y="156.4" textLength="48.7" lengthAdjust="spacingAndGlyphs">92043A</text><text x="824.4" y="211.4" textLength="39.5" lengthAdjust="spacingAndGlyphs">34003</text><text x="840.2" y="268.9" textLength="38.7" lengthAdjust="spacingAndGlyphs">92033</text><text x="466.9" y="315.6" textLength="49.5" lengthAdjust="spacingAndGlyphs">34028D</text><text x="478.6" y="358.9" textLength="22.8" lengthAdjust="spacingAndGlyphs">411</text><text x="622.7" y="371.4" textLength="22.9" lengthAdjust="spacingAndGlyphs">120</text><text x="531.1" y="400.6" textLength="39.5" lengthAdjust="spacingAndGlyphs">92150</text><text x="498.6" y="454.8" textLength="39.5" lengthAdjust="spacingAndGlyphs">92075</text><text x="651.1" y="347.3" textLength="49.5" lengthAdjust="spacingAndGlyphs">92002B</text><text x="638.6" y="415.6" textLength="48.7" lengthAdjust="spacingAndGlyphs">92043A</text><text x="956.6" y="205.5" textLength="39.5" lengthAdjust="spacingAndGlyphs">34028</text><text x="1023.7" y="276.4" textLength="47.2" lengthAdjust="spacingAndGlyphs">34028E</text><text x="874.2" y="331.0" textLength="39.5" lengthAdjust="spacingAndGlyphs">92144</text><text x="996.8" y="399.1" textLength="22.3" lengthAdjust="spacingAndGlyphs">120</text><text x="1040.0" y="355.0" textLength="23.2" lengthAdjust="spacingAndGlyphs">411</text><text x="1066.8" y="324.3" textLength="38.6" lengthAdjust="spacingAndGlyphs">92150</text><text x="1106.1" y="357.9" textLength="39.5" lengthAdjust="spacingAndGlyphs">92075</text><text x="793.2" y="336.9" textLength="49.9" lengthAdjust="spacingAndGlyphs">14024A</text><text x="933.2" y="473.1" textLength="49.9" lengthAdjust="spacingAndGlyphs">92002A</text><text x="780.7" y="501.9" textLength="39.9" lengthAdjust="spacingAndGlyphs">92033</text><text x="624.9" y="510.4" textLength="48.7" lengthAdjust="spacingAndGlyphs">34003A</text><text x="532.7" y="643.9" textLength="48.7" lengthAdjust="spacingAndGlyphs">34028C</text><text x="506.9" y="792.3" textLength="49.5" lengthAdjust="spacingAndGlyphs">92022A</text><text x="611.1" y="728.9" textLength="39.5" lengthAdjust="spacingAndGlyphs">92043</text><text x="665.2" y="718.1" textLength="40.4" lengthAdjust="spacingAndGlyphs">92066</text><text x="687.6" y="647.6" textLength="39.5" lengthAdjust="spacingAndGlyphs">92002</text><text x="657.4" y="764.6" textLength="47.9" lengthAdjust="spacingAndGlyphs">34003B</text><text x="612.1" y="869.9" textLength="38.5" lengthAdjust="spacingAndGlyphs">92022</text><text x="674.1" y="884.6" textLength="23.2" lengthAdjust="spacingAndGlyphs">482</text><text x="824.7" y="639.9" textLength="48.1" lengthAdjust="spacingAndGlyphs">35011A</text><text x="842.9" y="726.2" textLength="38.6" lengthAdjust="spacingAndGlyphs">92015</text><text x="960.2" y="671.9" textLength="49.2" lengthAdjust="spacingAndGlyphs">34028C</text><text x="1039.4" y="756.2" textLength="50.2" lengthAdjust="spacingAndGlyphs">92022A</text><text x="1000.9" y="795.8" textLength="48.0" lengthAdjust="spacingAndGlyphs">34028B</text><text x="1060.2" y="877.1" textLength="22.1" lengthAdjust="spacingAndGlyphs">132</text><text x="940.4" y="828.1" textLength="38.7" lengthAdjust="spacingAndGlyphs">92022</text><text x="849.6" y="782.1" textLength="39.8" lengthAdjust="spacingAndGlyphs">92066</text><text x="880.9" y="795.6" textLength="38.7" lengthAdjust="spacingAndGlyphs">92043</text><text x="810.0" y="821.6" textLength="39.8" lengthAdjust="spacingAndGlyphs">92002</text><text x="889.2" y="940.4" textLength="48.1" lengthAdjust="spacingAndGlyphs">34003B</text><text x="973.6" y="923.7" textLength="24.1" lengthAdjust="spacingAndGlyphs">482</text><text x="742.3" y="1005.0" textLength="38.7" lengthAdjust="spacingAndGlyphs">92015</text><text x="840.2" y="1008.1" textLength="38.7" lengthAdjust="spacingAndGlyphs">35011</text><text x="529.3" y="842.5" textLength="49.5" lengthAdjust="spacingAndGlyphs">34028A</text><text x="563.6" y="932.0" textLength="22.0" lengthAdjust="spacingAndGlyphs">132</text></g>
</svg>
</body></html>
